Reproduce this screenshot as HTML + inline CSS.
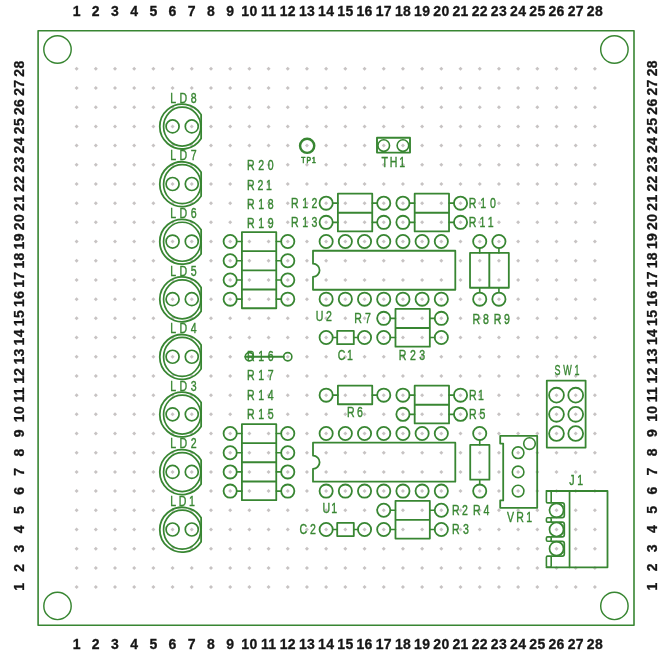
<!DOCTYPE html>
<html lang="en">
<head>
<meta charset="utf-8">
<title>PCB silkscreen layout</title>
<style>
html,body{margin:0;padding:0;background:#fff;}
body{width:664px;height:661px;overflow:hidden;}
svg{display:block;}
</style>
</head>
<body>
<svg width="664" height="661" viewBox="0 0 664 661">
<rect x="0" y="0" width="664" height="661" fill="#ffffff"/>
<g fill="#c7c3c3" stroke="none">
<path d="M74.6 587.09L76.6 585.09L78.6 587.09L76.6 589.09Z"/>
<path d="M74.6 567.9L76.6 565.9L78.6 567.9L76.6 569.9Z"/>
<path d="M74.6 548.7L76.6 546.7L78.6 548.7L76.6 550.7Z"/>
<path d="M74.6 529.5L76.6 527.5L78.6 529.5L76.6 531.5Z"/>
<path d="M74.6 510.31L76.6 508.31L78.6 510.31L76.6 512.31Z"/>
<path d="M74.6 491.11L76.6 489.11L78.6 491.11L76.6 493.11Z"/>
<path d="M74.6 471.92L76.6 469.92L78.6 471.92L76.6 473.92Z"/>
<path d="M74.6 452.72L76.6 450.72L78.6 452.72L76.6 454.72Z"/>
<path d="M74.6 433.52L76.6 431.52L78.6 433.52L76.6 435.52Z"/>
<path d="M74.6 414.33L76.6 412.33L78.6 414.33L76.6 416.33Z"/>
<path d="M74.6 395.13L76.6 393.13L78.6 395.13L76.6 397.13Z"/>
<path d="M74.6 375.94L76.6 373.94L78.6 375.94L76.6 377.94Z"/>
<path d="M74.6 356.74L76.6 354.74L78.6 356.74L76.6 358.74Z"/>
<path d="M74.6 337.54L76.6 335.54L78.6 337.54L76.6 339.54Z"/>
<path d="M74.6 318.35L76.6 316.35L78.6 318.35L76.6 320.35Z"/>
<path d="M74.6 299.15L76.6 297.15L78.6 299.15L76.6 301.15Z"/>
<path d="M74.6 279.96L76.6 277.96L78.6 279.96L76.6 281.96Z"/>
<path d="M74.6 260.76L76.6 258.76L78.6 260.76L76.6 262.76Z"/>
<path d="M74.6 241.56L76.6 239.56L78.6 241.56L76.6 243.56Z"/>
<path d="M74.6 222.37L76.6 220.37L78.6 222.37L76.6 224.37Z"/>
<path d="M74.6 203.17L76.6 201.17L78.6 203.17L76.6 205.17Z"/>
<path d="M74.6 183.98L76.6 181.98L78.6 183.98L76.6 185.98Z"/>
<path d="M74.6 164.78L76.6 162.78L78.6 164.78L76.6 166.78Z"/>
<path d="M74.6 145.58L76.6 143.58L78.6 145.58L76.6 147.58Z"/>
<path d="M74.6 126.39L76.6 124.39L78.6 126.39L76.6 128.39Z"/>
<path d="M74.6 107.19L76.6 105.19L78.6 107.19L76.6 109.19Z"/>
<path d="M74.6 88L76.6 86L78.6 88L76.6 90Z"/>
<path d="M74.6 68.8L76.6 66.8L78.6 68.8L76.6 70.8Z"/>
<path d="M93.8 587.09L95.8 585.09L97.8 587.09L95.8 589.09Z"/>
<path d="M93.8 567.9L95.8 565.9L97.8 567.9L95.8 569.9Z"/>
<path d="M93.8 548.7L95.8 546.7L97.8 548.7L95.8 550.7Z"/>
<path d="M93.8 529.5L95.8 527.5L97.8 529.5L95.8 531.5Z"/>
<path d="M93.8 510.31L95.8 508.31L97.8 510.31L95.8 512.31Z"/>
<path d="M93.8 491.11L95.8 489.11L97.8 491.11L95.8 493.11Z"/>
<path d="M93.8 471.92L95.8 469.92L97.8 471.92L95.8 473.92Z"/>
<path d="M93.8 452.72L95.8 450.72L97.8 452.72L95.8 454.72Z"/>
<path d="M93.8 433.52L95.8 431.52L97.8 433.52L95.8 435.52Z"/>
<path d="M93.8 414.33L95.8 412.33L97.8 414.33L95.8 416.33Z"/>
<path d="M93.8 395.13L95.8 393.13L97.8 395.13L95.8 397.13Z"/>
<path d="M93.8 375.94L95.8 373.94L97.8 375.94L95.8 377.94Z"/>
<path d="M93.8 356.74L95.8 354.74L97.8 356.74L95.8 358.74Z"/>
<path d="M93.8 337.54L95.8 335.54L97.8 337.54L95.8 339.54Z"/>
<path d="M93.8 318.35L95.8 316.35L97.8 318.35L95.8 320.35Z"/>
<path d="M93.8 299.15L95.8 297.15L97.8 299.15L95.8 301.15Z"/>
<path d="M93.8 279.96L95.8 277.96L97.8 279.96L95.8 281.96Z"/>
<path d="M93.8 260.76L95.8 258.76L97.8 260.76L95.8 262.76Z"/>
<path d="M93.8 241.56L95.8 239.56L97.8 241.56L95.8 243.56Z"/>
<path d="M93.8 222.37L95.8 220.37L97.8 222.37L95.8 224.37Z"/>
<path d="M93.8 203.17L95.8 201.17L97.8 203.17L95.8 205.17Z"/>
<path d="M93.8 183.98L95.8 181.98L97.8 183.98L95.8 185.98Z"/>
<path d="M93.8 164.78L95.8 162.78L97.8 164.78L95.8 166.78Z"/>
<path d="M93.8 145.58L95.8 143.58L97.8 145.58L95.8 147.58Z"/>
<path d="M93.8 126.39L95.8 124.39L97.8 126.39L95.8 128.39Z"/>
<path d="M93.8 107.19L95.8 105.19L97.8 107.19L95.8 109.19Z"/>
<path d="M93.8 88L95.8 86L97.8 88L95.8 90Z"/>
<path d="M93.8 68.8L95.8 66.8L97.8 68.8L95.8 70.8Z"/>
<path d="M112.99 587.09L114.99 585.09L116.99 587.09L114.99 589.09Z"/>
<path d="M112.99 567.9L114.99 565.9L116.99 567.9L114.99 569.9Z"/>
<path d="M112.99 548.7L114.99 546.7L116.99 548.7L114.99 550.7Z"/>
<path d="M112.99 529.5L114.99 527.5L116.99 529.5L114.99 531.5Z"/>
<path d="M112.99 510.31L114.99 508.31L116.99 510.31L114.99 512.31Z"/>
<path d="M112.99 491.11L114.99 489.11L116.99 491.11L114.99 493.11Z"/>
<path d="M112.99 471.92L114.99 469.92L116.99 471.92L114.99 473.92Z"/>
<path d="M112.99 452.72L114.99 450.72L116.99 452.72L114.99 454.72Z"/>
<path d="M112.99 433.52L114.99 431.52L116.99 433.52L114.99 435.52Z"/>
<path d="M112.99 414.33L114.99 412.33L116.99 414.33L114.99 416.33Z"/>
<path d="M112.99 395.13L114.99 393.13L116.99 395.13L114.99 397.13Z"/>
<path d="M112.99 375.94L114.99 373.94L116.99 375.94L114.99 377.94Z"/>
<path d="M112.99 356.74L114.99 354.74L116.99 356.74L114.99 358.74Z"/>
<path d="M112.99 337.54L114.99 335.54L116.99 337.54L114.99 339.54Z"/>
<path d="M112.99 318.35L114.99 316.35L116.99 318.35L114.99 320.35Z"/>
<path d="M112.99 299.15L114.99 297.15L116.99 299.15L114.99 301.15Z"/>
<path d="M112.99 279.96L114.99 277.96L116.99 279.96L114.99 281.96Z"/>
<path d="M112.99 260.76L114.99 258.76L116.99 260.76L114.99 262.76Z"/>
<path d="M112.99 241.56L114.99 239.56L116.99 241.56L114.99 243.56Z"/>
<path d="M112.99 222.37L114.99 220.37L116.99 222.37L114.99 224.37Z"/>
<path d="M112.99 203.17L114.99 201.17L116.99 203.17L114.99 205.17Z"/>
<path d="M112.99 183.98L114.99 181.98L116.99 183.98L114.99 185.98Z"/>
<path d="M112.99 164.78L114.99 162.78L116.99 164.78L114.99 166.78Z"/>
<path d="M112.99 145.58L114.99 143.58L116.99 145.58L114.99 147.58Z"/>
<path d="M112.99 126.39L114.99 124.39L116.99 126.39L114.99 128.39Z"/>
<path d="M112.99 107.19L114.99 105.19L116.99 107.19L114.99 109.19Z"/>
<path d="M112.99 88L114.99 86L116.99 88L114.99 90Z"/>
<path d="M112.99 68.8L114.99 66.8L116.99 68.8L114.99 70.8Z"/>
<path d="M132.19 587.09L134.19 585.09L136.19 587.09L134.19 589.09Z"/>
<path d="M132.19 567.9L134.19 565.9L136.19 567.9L134.19 569.9Z"/>
<path d="M132.19 548.7L134.19 546.7L136.19 548.7L134.19 550.7Z"/>
<path d="M132.19 529.5L134.19 527.5L136.19 529.5L134.19 531.5Z"/>
<path d="M132.19 510.31L134.19 508.31L136.19 510.31L134.19 512.31Z"/>
<path d="M132.19 491.11L134.19 489.11L136.19 491.11L134.19 493.11Z"/>
<path d="M132.19 471.92L134.19 469.92L136.19 471.92L134.19 473.92Z"/>
<path d="M132.19 452.72L134.19 450.72L136.19 452.72L134.19 454.72Z"/>
<path d="M132.19 433.52L134.19 431.52L136.19 433.52L134.19 435.52Z"/>
<path d="M132.19 414.33L134.19 412.33L136.19 414.33L134.19 416.33Z"/>
<path d="M132.19 395.13L134.19 393.13L136.19 395.13L134.19 397.13Z"/>
<path d="M132.19 375.94L134.19 373.94L136.19 375.94L134.19 377.94Z"/>
<path d="M132.19 356.74L134.19 354.74L136.19 356.74L134.19 358.74Z"/>
<path d="M132.19 337.54L134.19 335.54L136.19 337.54L134.19 339.54Z"/>
<path d="M132.19 318.35L134.19 316.35L136.19 318.35L134.19 320.35Z"/>
<path d="M132.19 299.15L134.19 297.15L136.19 299.15L134.19 301.15Z"/>
<path d="M132.19 279.96L134.19 277.96L136.19 279.96L134.19 281.96Z"/>
<path d="M132.19 260.76L134.19 258.76L136.19 260.76L134.19 262.76Z"/>
<path d="M132.19 241.56L134.19 239.56L136.19 241.56L134.19 243.56Z"/>
<path d="M132.19 222.37L134.19 220.37L136.19 222.37L134.19 224.37Z"/>
<path d="M132.19 203.17L134.19 201.17L136.19 203.17L134.19 205.17Z"/>
<path d="M132.19 183.98L134.19 181.98L136.19 183.98L134.19 185.98Z"/>
<path d="M132.19 164.78L134.19 162.78L136.19 164.78L134.19 166.78Z"/>
<path d="M132.19 145.58L134.19 143.58L136.19 145.58L134.19 147.58Z"/>
<path d="M132.19 126.39L134.19 124.39L136.19 126.39L134.19 128.39Z"/>
<path d="M132.19 107.19L134.19 105.19L136.19 107.19L134.19 109.19Z"/>
<path d="M132.19 88L134.19 86L136.19 88L134.19 90Z"/>
<path d="M132.19 68.8L134.19 66.8L136.19 68.8L134.19 70.8Z"/>
<path d="M151.38 587.09L153.38 585.09L155.38 587.09L153.38 589.09Z"/>
<path d="M151.38 567.9L153.38 565.9L155.38 567.9L153.38 569.9Z"/>
<path d="M151.38 548.7L153.38 546.7L155.38 548.7L153.38 550.7Z"/>
<path d="M151.38 529.5L153.38 527.5L155.38 529.5L153.38 531.5Z"/>
<path d="M151.38 510.31L153.38 508.31L155.38 510.31L153.38 512.31Z"/>
<path d="M151.38 491.11L153.38 489.11L155.38 491.11L153.38 493.11Z"/>
<path d="M151.38 471.92L153.38 469.92L155.38 471.92L153.38 473.92Z"/>
<path d="M151.38 452.72L153.38 450.72L155.38 452.72L153.38 454.72Z"/>
<path d="M151.38 433.52L153.38 431.52L155.38 433.52L153.38 435.52Z"/>
<path d="M151.38 414.33L153.38 412.33L155.38 414.33L153.38 416.33Z"/>
<path d="M151.38 395.13L153.38 393.13L155.38 395.13L153.38 397.13Z"/>
<path d="M151.38 375.94L153.38 373.94L155.38 375.94L153.38 377.94Z"/>
<path d="M151.38 356.74L153.38 354.74L155.38 356.74L153.38 358.74Z"/>
<path d="M151.38 337.54L153.38 335.54L155.38 337.54L153.38 339.54Z"/>
<path d="M151.38 318.35L153.38 316.35L155.38 318.35L153.38 320.35Z"/>
<path d="M151.38 299.15L153.38 297.15L155.38 299.15L153.38 301.15Z"/>
<path d="M151.38 279.96L153.38 277.96L155.38 279.96L153.38 281.96Z"/>
<path d="M151.38 260.76L153.38 258.76L155.38 260.76L153.38 262.76Z"/>
<path d="M151.38 241.56L153.38 239.56L155.38 241.56L153.38 243.56Z"/>
<path d="M151.38 222.37L153.38 220.37L155.38 222.37L153.38 224.37Z"/>
<path d="M151.38 203.17L153.38 201.17L155.38 203.17L153.38 205.17Z"/>
<path d="M151.38 183.98L153.38 181.98L155.38 183.98L153.38 185.98Z"/>
<path d="M151.38 164.78L153.38 162.78L155.38 164.78L153.38 166.78Z"/>
<path d="M151.38 145.58L153.38 143.58L155.38 145.58L153.38 147.58Z"/>
<path d="M151.38 126.39L153.38 124.39L155.38 126.39L153.38 128.39Z"/>
<path d="M151.38 107.19L153.38 105.19L155.38 107.19L153.38 109.19Z"/>
<path d="M151.38 88L153.38 86L155.38 88L153.38 90Z"/>
<path d="M151.38 68.8L153.38 66.8L155.38 68.8L153.38 70.8Z"/>
<path d="M170.58 587.09L172.58 585.09L174.58 587.09L172.58 589.09Z"/>
<path d="M170.58 567.9L172.58 565.9L174.58 567.9L172.58 569.9Z"/>
<path d="M170.58 548.7L172.58 546.7L174.58 548.7L172.58 550.7Z"/>
<path d="M170.58 529.5L172.58 527.5L174.58 529.5L172.58 531.5Z"/>
<path d="M170.58 510.31L172.58 508.31L174.58 510.31L172.58 512.31Z"/>
<path d="M170.58 491.11L172.58 489.11L174.58 491.11L172.58 493.11Z"/>
<path d="M170.58 471.92L172.58 469.92L174.58 471.92L172.58 473.92Z"/>
<path d="M170.58 452.72L172.58 450.72L174.58 452.72L172.58 454.72Z"/>
<path d="M170.58 433.52L172.58 431.52L174.58 433.52L172.58 435.52Z"/>
<path d="M170.58 414.33L172.58 412.33L174.58 414.33L172.58 416.33Z"/>
<path d="M170.58 395.13L172.58 393.13L174.58 395.13L172.58 397.13Z"/>
<path d="M170.58 375.94L172.58 373.94L174.58 375.94L172.58 377.94Z"/>
<path d="M170.58 356.74L172.58 354.74L174.58 356.74L172.58 358.74Z"/>
<path d="M170.58 337.54L172.58 335.54L174.58 337.54L172.58 339.54Z"/>
<path d="M170.58 318.35L172.58 316.35L174.58 318.35L172.58 320.35Z"/>
<path d="M170.58 299.15L172.58 297.15L174.58 299.15L172.58 301.15Z"/>
<path d="M170.58 279.96L172.58 277.96L174.58 279.96L172.58 281.96Z"/>
<path d="M170.58 260.76L172.58 258.76L174.58 260.76L172.58 262.76Z"/>
<path d="M170.58 241.56L172.58 239.56L174.58 241.56L172.58 243.56Z"/>
<path d="M170.58 222.37L172.58 220.37L174.58 222.37L172.58 224.37Z"/>
<path d="M170.58 203.17L172.58 201.17L174.58 203.17L172.58 205.17Z"/>
<path d="M170.58 183.98L172.58 181.98L174.58 183.98L172.58 185.98Z"/>
<path d="M170.58 164.78L172.58 162.78L174.58 164.78L172.58 166.78Z"/>
<path d="M170.58 145.58L172.58 143.58L174.58 145.58L172.58 147.58Z"/>
<path d="M170.58 126.39L172.58 124.39L174.58 126.39L172.58 128.39Z"/>
<path d="M170.58 107.19L172.58 105.19L174.58 107.19L172.58 109.19Z"/>
<path d="M170.58 88L172.58 86L174.58 88L172.58 90Z"/>
<path d="M170.58 68.8L172.58 66.8L174.58 68.8L172.58 70.8Z"/>
<path d="M189.78 587.09L191.78 585.09L193.78 587.09L191.78 589.09Z"/>
<path d="M189.78 567.9L191.78 565.9L193.78 567.9L191.78 569.9Z"/>
<path d="M189.78 548.7L191.78 546.7L193.78 548.7L191.78 550.7Z"/>
<path d="M189.78 529.5L191.78 527.5L193.78 529.5L191.78 531.5Z"/>
<path d="M189.78 510.31L191.78 508.31L193.78 510.31L191.78 512.31Z"/>
<path d="M189.78 491.11L191.78 489.11L193.78 491.11L191.78 493.11Z"/>
<path d="M189.78 471.92L191.78 469.92L193.78 471.92L191.78 473.92Z"/>
<path d="M189.78 452.72L191.78 450.72L193.78 452.72L191.78 454.72Z"/>
<path d="M189.78 433.52L191.78 431.52L193.78 433.52L191.78 435.52Z"/>
<path d="M189.78 414.33L191.78 412.33L193.78 414.33L191.78 416.33Z"/>
<path d="M189.78 395.13L191.78 393.13L193.78 395.13L191.78 397.13Z"/>
<path d="M189.78 375.94L191.78 373.94L193.78 375.94L191.78 377.94Z"/>
<path d="M189.78 356.74L191.78 354.74L193.78 356.74L191.78 358.74Z"/>
<path d="M189.78 337.54L191.78 335.54L193.78 337.54L191.78 339.54Z"/>
<path d="M189.78 318.35L191.78 316.35L193.78 318.35L191.78 320.35Z"/>
<path d="M189.78 299.15L191.78 297.15L193.78 299.15L191.78 301.15Z"/>
<path d="M189.78 279.96L191.78 277.96L193.78 279.96L191.78 281.96Z"/>
<path d="M189.78 260.76L191.78 258.76L193.78 260.76L191.78 262.76Z"/>
<path d="M189.78 241.56L191.78 239.56L193.78 241.56L191.78 243.56Z"/>
<path d="M189.78 222.37L191.78 220.37L193.78 222.37L191.78 224.37Z"/>
<path d="M189.78 203.17L191.78 201.17L193.78 203.17L191.78 205.17Z"/>
<path d="M189.78 183.98L191.78 181.98L193.78 183.98L191.78 185.98Z"/>
<path d="M189.78 164.78L191.78 162.78L193.78 164.78L191.78 166.78Z"/>
<path d="M189.78 145.58L191.78 143.58L193.78 145.58L191.78 147.58Z"/>
<path d="M189.78 126.39L191.78 124.39L193.78 126.39L191.78 128.39Z"/>
<path d="M189.78 107.19L191.78 105.19L193.78 107.19L191.78 109.19Z"/>
<path d="M189.78 88L191.78 86L193.78 88L191.78 90Z"/>
<path d="M189.78 68.8L191.78 66.8L193.78 68.8L191.78 70.8Z"/>
<path d="M208.97 587.09L210.97 585.09L212.97 587.09L210.97 589.09Z"/>
<path d="M208.97 567.9L210.97 565.9L212.97 567.9L210.97 569.9Z"/>
<path d="M208.97 548.7L210.97 546.7L212.97 548.7L210.97 550.7Z"/>
<path d="M208.97 529.5L210.97 527.5L212.97 529.5L210.97 531.5Z"/>
<path d="M208.97 510.31L210.97 508.31L212.97 510.31L210.97 512.31Z"/>
<path d="M208.97 491.11L210.97 489.11L212.97 491.11L210.97 493.11Z"/>
<path d="M208.97 471.92L210.97 469.92L212.97 471.92L210.97 473.92Z"/>
<path d="M208.97 452.72L210.97 450.72L212.97 452.72L210.97 454.72Z"/>
<path d="M208.97 433.52L210.97 431.52L212.97 433.52L210.97 435.52Z"/>
<path d="M208.97 414.33L210.97 412.33L212.97 414.33L210.97 416.33Z"/>
<path d="M208.97 395.13L210.97 393.13L212.97 395.13L210.97 397.13Z"/>
<path d="M208.97 375.94L210.97 373.94L212.97 375.94L210.97 377.94Z"/>
<path d="M208.97 356.74L210.97 354.74L212.97 356.74L210.97 358.74Z"/>
<path d="M208.97 337.54L210.97 335.54L212.97 337.54L210.97 339.54Z"/>
<path d="M208.97 318.35L210.97 316.35L212.97 318.35L210.97 320.35Z"/>
<path d="M208.97 299.15L210.97 297.15L212.97 299.15L210.97 301.15Z"/>
<path d="M208.97 279.96L210.97 277.96L212.97 279.96L210.97 281.96Z"/>
<path d="M208.97 260.76L210.97 258.76L212.97 260.76L210.97 262.76Z"/>
<path d="M208.97 241.56L210.97 239.56L212.97 241.56L210.97 243.56Z"/>
<path d="M208.97 222.37L210.97 220.37L212.97 222.37L210.97 224.37Z"/>
<path d="M208.97 203.17L210.97 201.17L212.97 203.17L210.97 205.17Z"/>
<path d="M208.97 183.98L210.97 181.98L212.97 183.98L210.97 185.98Z"/>
<path d="M208.97 164.78L210.97 162.78L212.97 164.78L210.97 166.78Z"/>
<path d="M208.97 145.58L210.97 143.58L212.97 145.58L210.97 147.58Z"/>
<path d="M208.97 126.39L210.97 124.39L212.97 126.39L210.97 128.39Z"/>
<path d="M208.97 107.19L210.97 105.19L212.97 107.19L210.97 109.19Z"/>
<path d="M208.97 88L210.97 86L212.97 88L210.97 90Z"/>
<path d="M208.97 68.8L210.97 66.8L212.97 68.8L210.97 70.8Z"/>
<path d="M228.17 587.09L230.17 585.09L232.17 587.09L230.17 589.09Z"/>
<path d="M228.17 567.9L230.17 565.9L232.17 567.9L230.17 569.9Z"/>
<path d="M228.17 548.7L230.17 546.7L232.17 548.7L230.17 550.7Z"/>
<path d="M228.17 529.5L230.17 527.5L232.17 529.5L230.17 531.5Z"/>
<path d="M228.17 510.31L230.17 508.31L232.17 510.31L230.17 512.31Z"/>
<path d="M228.17 491.11L230.17 489.11L232.17 491.11L230.17 493.11Z"/>
<path d="M228.17 471.92L230.17 469.92L232.17 471.92L230.17 473.92Z"/>
<path d="M228.17 452.72L230.17 450.72L232.17 452.72L230.17 454.72Z"/>
<path d="M228.17 433.52L230.17 431.52L232.17 433.52L230.17 435.52Z"/>
<path d="M228.17 414.33L230.17 412.33L232.17 414.33L230.17 416.33Z"/>
<path d="M228.17 395.13L230.17 393.13L232.17 395.13L230.17 397.13Z"/>
<path d="M228.17 375.94L230.17 373.94L232.17 375.94L230.17 377.94Z"/>
<path d="M228.17 356.74L230.17 354.74L232.17 356.74L230.17 358.74Z"/>
<path d="M228.17 337.54L230.17 335.54L232.17 337.54L230.17 339.54Z"/>
<path d="M228.17 318.35L230.17 316.35L232.17 318.35L230.17 320.35Z"/>
<path d="M228.17 299.15L230.17 297.15L232.17 299.15L230.17 301.15Z"/>
<path d="M228.17 279.96L230.17 277.96L232.17 279.96L230.17 281.96Z"/>
<path d="M228.17 260.76L230.17 258.76L232.17 260.76L230.17 262.76Z"/>
<path d="M228.17 241.56L230.17 239.56L232.17 241.56L230.17 243.56Z"/>
<path d="M228.17 222.37L230.17 220.37L232.17 222.37L230.17 224.37Z"/>
<path d="M228.17 203.17L230.17 201.17L232.17 203.17L230.17 205.17Z"/>
<path d="M228.17 183.98L230.17 181.98L232.17 183.98L230.17 185.98Z"/>
<path d="M228.17 164.78L230.17 162.78L232.17 164.78L230.17 166.78Z"/>
<path d="M228.17 145.58L230.17 143.58L232.17 145.58L230.17 147.58Z"/>
<path d="M228.17 126.39L230.17 124.39L232.17 126.39L230.17 128.39Z"/>
<path d="M228.17 107.19L230.17 105.19L232.17 107.19L230.17 109.19Z"/>
<path d="M228.17 88L230.17 86L232.17 88L230.17 90Z"/>
<path d="M228.17 68.8L230.17 66.8L232.17 68.8L230.17 70.8Z"/>
<path d="M247.36 587.09L249.36 585.09L251.36 587.09L249.36 589.09Z"/>
<path d="M247.36 567.9L249.36 565.9L251.36 567.9L249.36 569.9Z"/>
<path d="M247.36 548.7L249.36 546.7L251.36 548.7L249.36 550.7Z"/>
<path d="M247.36 529.5L249.36 527.5L251.36 529.5L249.36 531.5Z"/>
<path d="M247.36 510.31L249.36 508.31L251.36 510.31L249.36 512.31Z"/>
<path d="M247.36 491.11L249.36 489.11L251.36 491.11L249.36 493.11Z"/>
<path d="M247.36 471.92L249.36 469.92L251.36 471.92L249.36 473.92Z"/>
<path d="M247.36 452.72L249.36 450.72L251.36 452.72L249.36 454.72Z"/>
<path d="M247.36 433.52L249.36 431.52L251.36 433.52L249.36 435.52Z"/>
<path d="M247.36 414.33L249.36 412.33L251.36 414.33L249.36 416.33Z"/>
<path d="M247.36 395.13L249.36 393.13L251.36 395.13L249.36 397.13Z"/>
<path d="M247.36 375.94L249.36 373.94L251.36 375.94L249.36 377.94Z"/>
<path d="M247.36 356.74L249.36 354.74L251.36 356.74L249.36 358.74Z"/>
<path d="M247.36 337.54L249.36 335.54L251.36 337.54L249.36 339.54Z"/>
<path d="M247.36 318.35L249.36 316.35L251.36 318.35L249.36 320.35Z"/>
<path d="M247.36 299.15L249.36 297.15L251.36 299.15L249.36 301.15Z"/>
<path d="M247.36 279.96L249.36 277.96L251.36 279.96L249.36 281.96Z"/>
<path d="M247.36 260.76L249.36 258.76L251.36 260.76L249.36 262.76Z"/>
<path d="M247.36 241.56L249.36 239.56L251.36 241.56L249.36 243.56Z"/>
<path d="M247.36 222.37L249.36 220.37L251.36 222.37L249.36 224.37Z"/>
<path d="M247.36 203.17L249.36 201.17L251.36 203.17L249.36 205.17Z"/>
<path d="M247.36 183.98L249.36 181.98L251.36 183.98L249.36 185.98Z"/>
<path d="M247.36 164.78L249.36 162.78L251.36 164.78L249.36 166.78Z"/>
<path d="M247.36 145.58L249.36 143.58L251.36 145.58L249.36 147.58Z"/>
<path d="M247.36 126.39L249.36 124.39L251.36 126.39L249.36 128.39Z"/>
<path d="M247.36 107.19L249.36 105.19L251.36 107.19L249.36 109.19Z"/>
<path d="M247.36 88L249.36 86L251.36 88L249.36 90Z"/>
<path d="M247.36 68.8L249.36 66.8L251.36 68.8L249.36 70.8Z"/>
<path d="M266.56 587.09L268.56 585.09L270.56 587.09L268.56 589.09Z"/>
<path d="M266.56 567.9L268.56 565.9L270.56 567.9L268.56 569.9Z"/>
<path d="M266.56 548.7L268.56 546.7L270.56 548.7L268.56 550.7Z"/>
<path d="M266.56 529.5L268.56 527.5L270.56 529.5L268.56 531.5Z"/>
<path d="M266.56 510.31L268.56 508.31L270.56 510.31L268.56 512.31Z"/>
<path d="M266.56 491.11L268.56 489.11L270.56 491.11L268.56 493.11Z"/>
<path d="M266.56 471.92L268.56 469.92L270.56 471.92L268.56 473.92Z"/>
<path d="M266.56 452.72L268.56 450.72L270.56 452.72L268.56 454.72Z"/>
<path d="M266.56 433.52L268.56 431.52L270.56 433.52L268.56 435.52Z"/>
<path d="M266.56 414.33L268.56 412.33L270.56 414.33L268.56 416.33Z"/>
<path d="M266.56 395.13L268.56 393.13L270.56 395.13L268.56 397.13Z"/>
<path d="M266.56 375.94L268.56 373.94L270.56 375.94L268.56 377.94Z"/>
<path d="M266.56 356.74L268.56 354.74L270.56 356.74L268.56 358.74Z"/>
<path d="M266.56 337.54L268.56 335.54L270.56 337.54L268.56 339.54Z"/>
<path d="M266.56 318.35L268.56 316.35L270.56 318.35L268.56 320.35Z"/>
<path d="M266.56 299.15L268.56 297.15L270.56 299.15L268.56 301.15Z"/>
<path d="M266.56 279.96L268.56 277.96L270.56 279.96L268.56 281.96Z"/>
<path d="M266.56 260.76L268.56 258.76L270.56 260.76L268.56 262.76Z"/>
<path d="M266.56 241.56L268.56 239.56L270.56 241.56L268.56 243.56Z"/>
<path d="M266.56 222.37L268.56 220.37L270.56 222.37L268.56 224.37Z"/>
<path d="M266.56 203.17L268.56 201.17L270.56 203.17L268.56 205.17Z"/>
<path d="M266.56 183.98L268.56 181.98L270.56 183.98L268.56 185.98Z"/>
<path d="M266.56 164.78L268.56 162.78L270.56 164.78L268.56 166.78Z"/>
<path d="M266.56 145.58L268.56 143.58L270.56 145.58L268.56 147.58Z"/>
<path d="M266.56 126.39L268.56 124.39L270.56 126.39L268.56 128.39Z"/>
<path d="M266.56 107.19L268.56 105.19L270.56 107.19L268.56 109.19Z"/>
<path d="M266.56 88L268.56 86L270.56 88L268.56 90Z"/>
<path d="M266.56 68.8L268.56 66.8L270.56 68.8L268.56 70.8Z"/>
<path d="M285.76 587.09L287.76 585.09L289.76 587.09L287.76 589.09Z"/>
<path d="M285.76 567.9L287.76 565.9L289.76 567.9L287.76 569.9Z"/>
<path d="M285.76 548.7L287.76 546.7L289.76 548.7L287.76 550.7Z"/>
<path d="M285.76 529.5L287.76 527.5L289.76 529.5L287.76 531.5Z"/>
<path d="M285.76 510.31L287.76 508.31L289.76 510.31L287.76 512.31Z"/>
<path d="M285.76 491.11L287.76 489.11L289.76 491.11L287.76 493.11Z"/>
<path d="M285.76 471.92L287.76 469.92L289.76 471.92L287.76 473.92Z"/>
<path d="M285.76 452.72L287.76 450.72L289.76 452.72L287.76 454.72Z"/>
<path d="M285.76 433.52L287.76 431.52L289.76 433.52L287.76 435.52Z"/>
<path d="M285.76 414.33L287.76 412.33L289.76 414.33L287.76 416.33Z"/>
<path d="M285.76 395.13L287.76 393.13L289.76 395.13L287.76 397.13Z"/>
<path d="M285.76 375.94L287.76 373.94L289.76 375.94L287.76 377.94Z"/>
<path d="M285.76 356.74L287.76 354.74L289.76 356.74L287.76 358.74Z"/>
<path d="M285.76 337.54L287.76 335.54L289.76 337.54L287.76 339.54Z"/>
<path d="M285.76 318.35L287.76 316.35L289.76 318.35L287.76 320.35Z"/>
<path d="M285.76 299.15L287.76 297.15L289.76 299.15L287.76 301.15Z"/>
<path d="M285.76 279.96L287.76 277.96L289.76 279.96L287.76 281.96Z"/>
<path d="M285.76 260.76L287.76 258.76L289.76 260.76L287.76 262.76Z"/>
<path d="M285.76 241.56L287.76 239.56L289.76 241.56L287.76 243.56Z"/>
<path d="M285.76 222.37L287.76 220.37L289.76 222.37L287.76 224.37Z"/>
<path d="M285.76 203.17L287.76 201.17L289.76 203.17L287.76 205.17Z"/>
<path d="M285.76 183.98L287.76 181.98L289.76 183.98L287.76 185.98Z"/>
<path d="M285.76 164.78L287.76 162.78L289.76 164.78L287.76 166.78Z"/>
<path d="M285.76 145.58L287.76 143.58L289.76 145.58L287.76 147.58Z"/>
<path d="M285.76 126.39L287.76 124.39L289.76 126.39L287.76 128.39Z"/>
<path d="M285.76 107.19L287.76 105.19L289.76 107.19L287.76 109.19Z"/>
<path d="M285.76 88L287.76 86L289.76 88L287.76 90Z"/>
<path d="M285.76 68.8L287.76 66.8L289.76 68.8L287.76 70.8Z"/>
<path d="M304.95 587.09L306.95 585.09L308.95 587.09L306.95 589.09Z"/>
<path d="M304.95 567.9L306.95 565.9L308.95 567.9L306.95 569.9Z"/>
<path d="M304.95 548.7L306.95 546.7L308.95 548.7L306.95 550.7Z"/>
<path d="M304.95 529.5L306.95 527.5L308.95 529.5L306.95 531.5Z"/>
<path d="M304.95 510.31L306.95 508.31L308.95 510.31L306.95 512.31Z"/>
<path d="M304.95 491.11L306.95 489.11L308.95 491.11L306.95 493.11Z"/>
<path d="M304.95 471.92L306.95 469.92L308.95 471.92L306.95 473.92Z"/>
<path d="M304.95 452.72L306.95 450.72L308.95 452.72L306.95 454.72Z"/>
<path d="M304.95 433.52L306.95 431.52L308.95 433.52L306.95 435.52Z"/>
<path d="M304.95 414.33L306.95 412.33L308.95 414.33L306.95 416.33Z"/>
<path d="M304.95 395.13L306.95 393.13L308.95 395.13L306.95 397.13Z"/>
<path d="M304.95 375.94L306.95 373.94L308.95 375.94L306.95 377.94Z"/>
<path d="M304.95 356.74L306.95 354.74L308.95 356.74L306.95 358.74Z"/>
<path d="M304.95 337.54L306.95 335.54L308.95 337.54L306.95 339.54Z"/>
<path d="M304.95 318.35L306.95 316.35L308.95 318.35L306.95 320.35Z"/>
<path d="M304.95 299.15L306.95 297.15L308.95 299.15L306.95 301.15Z"/>
<path d="M304.95 279.96L306.95 277.96L308.95 279.96L306.95 281.96Z"/>
<path d="M304.95 260.76L306.95 258.76L308.95 260.76L306.95 262.76Z"/>
<path d="M304.95 241.56L306.95 239.56L308.95 241.56L306.95 243.56Z"/>
<path d="M304.95 222.37L306.95 220.37L308.95 222.37L306.95 224.37Z"/>
<path d="M304.95 203.17L306.95 201.17L308.95 203.17L306.95 205.17Z"/>
<path d="M304.95 183.98L306.95 181.98L308.95 183.98L306.95 185.98Z"/>
<path d="M304.95 164.78L306.95 162.78L308.95 164.78L306.95 166.78Z"/>
<path d="M304.95 145.58L306.95 143.58L308.95 145.58L306.95 147.58Z"/>
<path d="M304.95 126.39L306.95 124.39L308.95 126.39L306.95 128.39Z"/>
<path d="M304.95 107.19L306.95 105.19L308.95 107.19L306.95 109.19Z"/>
<path d="M304.95 88L306.95 86L308.95 88L306.95 90Z"/>
<path d="M304.95 68.8L306.95 66.8L308.95 68.8L306.95 70.8Z"/>
<path d="M324.15 587.09L326.15 585.09L328.15 587.09L326.15 589.09Z"/>
<path d="M324.15 567.9L326.15 565.9L328.15 567.9L326.15 569.9Z"/>
<path d="M324.15 548.7L326.15 546.7L328.15 548.7L326.15 550.7Z"/>
<path d="M324.15 529.5L326.15 527.5L328.15 529.5L326.15 531.5Z"/>
<path d="M324.15 510.31L326.15 508.31L328.15 510.31L326.15 512.31Z"/>
<path d="M324.15 491.11L326.15 489.11L328.15 491.11L326.15 493.11Z"/>
<path d="M324.15 471.92L326.15 469.92L328.15 471.92L326.15 473.92Z"/>
<path d="M324.15 452.72L326.15 450.72L328.15 452.72L326.15 454.72Z"/>
<path d="M324.15 433.52L326.15 431.52L328.15 433.52L326.15 435.52Z"/>
<path d="M324.15 414.33L326.15 412.33L328.15 414.33L326.15 416.33Z"/>
<path d="M324.15 395.13L326.15 393.13L328.15 395.13L326.15 397.13Z"/>
<path d="M324.15 375.94L326.15 373.94L328.15 375.94L326.15 377.94Z"/>
<path d="M324.15 356.74L326.15 354.74L328.15 356.74L326.15 358.74Z"/>
<path d="M324.15 337.54L326.15 335.54L328.15 337.54L326.15 339.54Z"/>
<path d="M324.15 318.35L326.15 316.35L328.15 318.35L326.15 320.35Z"/>
<path d="M324.15 299.15L326.15 297.15L328.15 299.15L326.15 301.15Z"/>
<path d="M324.15 279.96L326.15 277.96L328.15 279.96L326.15 281.96Z"/>
<path d="M324.15 260.76L326.15 258.76L328.15 260.76L326.15 262.76Z"/>
<path d="M324.15 241.56L326.15 239.56L328.15 241.56L326.15 243.56Z"/>
<path d="M324.15 222.37L326.15 220.37L328.15 222.37L326.15 224.37Z"/>
<path d="M324.15 203.17L326.15 201.17L328.15 203.17L326.15 205.17Z"/>
<path d="M324.15 183.98L326.15 181.98L328.15 183.98L326.15 185.98Z"/>
<path d="M324.15 164.78L326.15 162.78L328.15 164.78L326.15 166.78Z"/>
<path d="M324.15 145.58L326.15 143.58L328.15 145.58L326.15 147.58Z"/>
<path d="M324.15 126.39L326.15 124.39L328.15 126.39L326.15 128.39Z"/>
<path d="M324.15 107.19L326.15 105.19L328.15 107.19L326.15 109.19Z"/>
<path d="M324.15 88L326.15 86L328.15 88L326.15 90Z"/>
<path d="M324.15 68.8L326.15 66.8L328.15 68.8L326.15 70.8Z"/>
<path d="M343.34 587.09L345.34 585.09L347.34 587.09L345.34 589.09Z"/>
<path d="M343.34 567.9L345.34 565.9L347.34 567.9L345.34 569.9Z"/>
<path d="M343.34 548.7L345.34 546.7L347.34 548.7L345.34 550.7Z"/>
<path d="M343.34 529.5L345.34 527.5L347.34 529.5L345.34 531.5Z"/>
<path d="M343.34 510.31L345.34 508.31L347.34 510.31L345.34 512.31Z"/>
<path d="M343.34 491.11L345.34 489.11L347.34 491.11L345.34 493.11Z"/>
<path d="M343.34 471.92L345.34 469.92L347.34 471.92L345.34 473.92Z"/>
<path d="M343.34 452.72L345.34 450.72L347.34 452.72L345.34 454.72Z"/>
<path d="M343.34 433.52L345.34 431.52L347.34 433.52L345.34 435.52Z"/>
<path d="M343.34 414.33L345.34 412.33L347.34 414.33L345.34 416.33Z"/>
<path d="M343.34 395.13L345.34 393.13L347.34 395.13L345.34 397.13Z"/>
<path d="M343.34 375.94L345.34 373.94L347.34 375.94L345.34 377.94Z"/>
<path d="M343.34 356.74L345.34 354.74L347.34 356.74L345.34 358.74Z"/>
<path d="M343.34 337.54L345.34 335.54L347.34 337.54L345.34 339.54Z"/>
<path d="M343.34 318.35L345.34 316.35L347.34 318.35L345.34 320.35Z"/>
<path d="M343.34 299.15L345.34 297.15L347.34 299.15L345.34 301.15Z"/>
<path d="M343.34 279.96L345.34 277.96L347.34 279.96L345.34 281.96Z"/>
<path d="M343.34 260.76L345.34 258.76L347.34 260.76L345.34 262.76Z"/>
<path d="M343.34 241.56L345.34 239.56L347.34 241.56L345.34 243.56Z"/>
<path d="M343.34 222.37L345.34 220.37L347.34 222.37L345.34 224.37Z"/>
<path d="M343.34 203.17L345.34 201.17L347.34 203.17L345.34 205.17Z"/>
<path d="M343.34 183.98L345.34 181.98L347.34 183.98L345.34 185.98Z"/>
<path d="M343.34 164.78L345.34 162.78L347.34 164.78L345.34 166.78Z"/>
<path d="M343.34 145.58L345.34 143.58L347.34 145.58L345.34 147.58Z"/>
<path d="M343.34 126.39L345.34 124.39L347.34 126.39L345.34 128.39Z"/>
<path d="M343.34 107.19L345.34 105.19L347.34 107.19L345.34 109.19Z"/>
<path d="M343.34 88L345.34 86L347.34 88L345.34 90Z"/>
<path d="M343.34 68.8L345.34 66.8L347.34 68.8L345.34 70.8Z"/>
<path d="M362.54 587.09L364.54 585.09L366.54 587.09L364.54 589.09Z"/>
<path d="M362.54 567.9L364.54 565.9L366.54 567.9L364.54 569.9Z"/>
<path d="M362.54 548.7L364.54 546.7L366.54 548.7L364.54 550.7Z"/>
<path d="M362.54 529.5L364.54 527.5L366.54 529.5L364.54 531.5Z"/>
<path d="M362.54 510.31L364.54 508.31L366.54 510.31L364.54 512.31Z"/>
<path d="M362.54 491.11L364.54 489.11L366.54 491.11L364.54 493.11Z"/>
<path d="M362.54 471.92L364.54 469.92L366.54 471.92L364.54 473.92Z"/>
<path d="M362.54 452.72L364.54 450.72L366.54 452.72L364.54 454.72Z"/>
<path d="M362.54 433.52L364.54 431.52L366.54 433.52L364.54 435.52Z"/>
<path d="M362.54 414.33L364.54 412.33L366.54 414.33L364.54 416.33Z"/>
<path d="M362.54 395.13L364.54 393.13L366.54 395.13L364.54 397.13Z"/>
<path d="M362.54 375.94L364.54 373.94L366.54 375.94L364.54 377.94Z"/>
<path d="M362.54 356.74L364.54 354.74L366.54 356.74L364.54 358.74Z"/>
<path d="M362.54 337.54L364.54 335.54L366.54 337.54L364.54 339.54Z"/>
<path d="M362.54 318.35L364.54 316.35L366.54 318.35L364.54 320.35Z"/>
<path d="M362.54 299.15L364.54 297.15L366.54 299.15L364.54 301.15Z"/>
<path d="M362.54 279.96L364.54 277.96L366.54 279.96L364.54 281.96Z"/>
<path d="M362.54 260.76L364.54 258.76L366.54 260.76L364.54 262.76Z"/>
<path d="M362.54 241.56L364.54 239.56L366.54 241.56L364.54 243.56Z"/>
<path d="M362.54 222.37L364.54 220.37L366.54 222.37L364.54 224.37Z"/>
<path d="M362.54 203.17L364.54 201.17L366.54 203.17L364.54 205.17Z"/>
<path d="M362.54 183.98L364.54 181.98L366.54 183.98L364.54 185.98Z"/>
<path d="M362.54 164.78L364.54 162.78L366.54 164.78L364.54 166.78Z"/>
<path d="M362.54 145.58L364.54 143.58L366.54 145.58L364.54 147.58Z"/>
<path d="M362.54 126.39L364.54 124.39L366.54 126.39L364.54 128.39Z"/>
<path d="M362.54 107.19L364.54 105.19L366.54 107.19L364.54 109.19Z"/>
<path d="M362.54 88L364.54 86L366.54 88L364.54 90Z"/>
<path d="M362.54 68.8L364.54 66.8L366.54 68.8L364.54 70.8Z"/>
<path d="M381.74 587.09L383.74 585.09L385.74 587.09L383.74 589.09Z"/>
<path d="M381.74 567.9L383.74 565.9L385.74 567.9L383.74 569.9Z"/>
<path d="M381.74 548.7L383.74 546.7L385.74 548.7L383.74 550.7Z"/>
<path d="M381.74 529.5L383.74 527.5L385.74 529.5L383.74 531.5Z"/>
<path d="M381.74 510.31L383.74 508.31L385.74 510.31L383.74 512.31Z"/>
<path d="M381.74 491.11L383.74 489.11L385.74 491.11L383.74 493.11Z"/>
<path d="M381.74 471.92L383.74 469.92L385.74 471.92L383.74 473.92Z"/>
<path d="M381.74 452.72L383.74 450.72L385.74 452.72L383.74 454.72Z"/>
<path d="M381.74 433.52L383.74 431.52L385.74 433.52L383.74 435.52Z"/>
<path d="M381.74 414.33L383.74 412.33L385.74 414.33L383.74 416.33Z"/>
<path d="M381.74 395.13L383.74 393.13L385.74 395.13L383.74 397.13Z"/>
<path d="M381.74 375.94L383.74 373.94L385.74 375.94L383.74 377.94Z"/>
<path d="M381.74 356.74L383.74 354.74L385.74 356.74L383.74 358.74Z"/>
<path d="M381.74 337.54L383.74 335.54L385.74 337.54L383.74 339.54Z"/>
<path d="M381.74 318.35L383.74 316.35L385.74 318.35L383.74 320.35Z"/>
<path d="M381.74 299.15L383.74 297.15L385.74 299.15L383.74 301.15Z"/>
<path d="M381.74 279.96L383.74 277.96L385.74 279.96L383.74 281.96Z"/>
<path d="M381.74 260.76L383.74 258.76L385.74 260.76L383.74 262.76Z"/>
<path d="M381.74 241.56L383.74 239.56L385.74 241.56L383.74 243.56Z"/>
<path d="M381.74 222.37L383.74 220.37L385.74 222.37L383.74 224.37Z"/>
<path d="M381.74 203.17L383.74 201.17L385.74 203.17L383.74 205.17Z"/>
<path d="M381.74 183.98L383.74 181.98L385.74 183.98L383.74 185.98Z"/>
<path d="M381.74 164.78L383.74 162.78L385.74 164.78L383.74 166.78Z"/>
<path d="M381.74 145.58L383.74 143.58L385.74 145.58L383.74 147.58Z"/>
<path d="M381.74 126.39L383.74 124.39L385.74 126.39L383.74 128.39Z"/>
<path d="M381.74 107.19L383.74 105.19L385.74 107.19L383.74 109.19Z"/>
<path d="M381.74 88L383.74 86L385.74 88L383.74 90Z"/>
<path d="M381.74 68.8L383.74 66.8L385.74 68.8L383.74 70.8Z"/>
<path d="M400.93 587.09L402.93 585.09L404.93 587.09L402.93 589.09Z"/>
<path d="M400.93 567.9L402.93 565.9L404.93 567.9L402.93 569.9Z"/>
<path d="M400.93 548.7L402.93 546.7L404.93 548.7L402.93 550.7Z"/>
<path d="M400.93 529.5L402.93 527.5L404.93 529.5L402.93 531.5Z"/>
<path d="M400.93 510.31L402.93 508.31L404.93 510.31L402.93 512.31Z"/>
<path d="M400.93 491.11L402.93 489.11L404.93 491.11L402.93 493.11Z"/>
<path d="M400.93 471.92L402.93 469.92L404.93 471.92L402.93 473.92Z"/>
<path d="M400.93 452.72L402.93 450.72L404.93 452.72L402.93 454.72Z"/>
<path d="M400.93 433.52L402.93 431.52L404.93 433.52L402.93 435.52Z"/>
<path d="M400.93 414.33L402.93 412.33L404.93 414.33L402.93 416.33Z"/>
<path d="M400.93 395.13L402.93 393.13L404.93 395.13L402.93 397.13Z"/>
<path d="M400.93 375.94L402.93 373.94L404.93 375.94L402.93 377.94Z"/>
<path d="M400.93 356.74L402.93 354.74L404.93 356.74L402.93 358.74Z"/>
<path d="M400.93 337.54L402.93 335.54L404.93 337.54L402.93 339.54Z"/>
<path d="M400.93 318.35L402.93 316.35L404.93 318.35L402.93 320.35Z"/>
<path d="M400.93 299.15L402.93 297.15L404.93 299.15L402.93 301.15Z"/>
<path d="M400.93 279.96L402.93 277.96L404.93 279.96L402.93 281.96Z"/>
<path d="M400.93 260.76L402.93 258.76L404.93 260.76L402.93 262.76Z"/>
<path d="M400.93 241.56L402.93 239.56L404.93 241.56L402.93 243.56Z"/>
<path d="M400.93 222.37L402.93 220.37L404.93 222.37L402.93 224.37Z"/>
<path d="M400.93 203.17L402.93 201.17L404.93 203.17L402.93 205.17Z"/>
<path d="M400.93 183.98L402.93 181.98L404.93 183.98L402.93 185.98Z"/>
<path d="M400.93 164.78L402.93 162.78L404.93 164.78L402.93 166.78Z"/>
<path d="M400.93 145.58L402.93 143.58L404.93 145.58L402.93 147.58Z"/>
<path d="M400.93 126.39L402.93 124.39L404.93 126.39L402.93 128.39Z"/>
<path d="M400.93 107.19L402.93 105.19L404.93 107.19L402.93 109.19Z"/>
<path d="M400.93 88L402.93 86L404.93 88L402.93 90Z"/>
<path d="M400.93 68.8L402.93 66.8L404.93 68.8L402.93 70.8Z"/>
<path d="M420.13 587.09L422.13 585.09L424.13 587.09L422.13 589.09Z"/>
<path d="M420.13 567.9L422.13 565.9L424.13 567.9L422.13 569.9Z"/>
<path d="M420.13 548.7L422.13 546.7L424.13 548.7L422.13 550.7Z"/>
<path d="M420.13 529.5L422.13 527.5L424.13 529.5L422.13 531.5Z"/>
<path d="M420.13 510.31L422.13 508.31L424.13 510.31L422.13 512.31Z"/>
<path d="M420.13 491.11L422.13 489.11L424.13 491.11L422.13 493.11Z"/>
<path d="M420.13 471.92L422.13 469.92L424.13 471.92L422.13 473.92Z"/>
<path d="M420.13 452.72L422.13 450.72L424.13 452.72L422.13 454.72Z"/>
<path d="M420.13 433.52L422.13 431.52L424.13 433.52L422.13 435.52Z"/>
<path d="M420.13 414.33L422.13 412.33L424.13 414.33L422.13 416.33Z"/>
<path d="M420.13 395.13L422.13 393.13L424.13 395.13L422.13 397.13Z"/>
<path d="M420.13 375.94L422.13 373.94L424.13 375.94L422.13 377.94Z"/>
<path d="M420.13 356.74L422.13 354.74L424.13 356.74L422.13 358.74Z"/>
<path d="M420.13 337.54L422.13 335.54L424.13 337.54L422.13 339.54Z"/>
<path d="M420.13 318.35L422.13 316.35L424.13 318.35L422.13 320.35Z"/>
<path d="M420.13 299.15L422.13 297.15L424.13 299.15L422.13 301.15Z"/>
<path d="M420.13 279.96L422.13 277.96L424.13 279.96L422.13 281.96Z"/>
<path d="M420.13 260.76L422.13 258.76L424.13 260.76L422.13 262.76Z"/>
<path d="M420.13 241.56L422.13 239.56L424.13 241.56L422.13 243.56Z"/>
<path d="M420.13 222.37L422.13 220.37L424.13 222.37L422.13 224.37Z"/>
<path d="M420.13 203.17L422.13 201.17L424.13 203.17L422.13 205.17Z"/>
<path d="M420.13 183.98L422.13 181.98L424.13 183.98L422.13 185.98Z"/>
<path d="M420.13 164.78L422.13 162.78L424.13 164.78L422.13 166.78Z"/>
<path d="M420.13 145.58L422.13 143.58L424.13 145.58L422.13 147.58Z"/>
<path d="M420.13 126.39L422.13 124.39L424.13 126.39L422.13 128.39Z"/>
<path d="M420.13 107.19L422.13 105.19L424.13 107.19L422.13 109.19Z"/>
<path d="M420.13 88L422.13 86L424.13 88L422.13 90Z"/>
<path d="M420.13 68.8L422.13 66.8L424.13 68.8L422.13 70.8Z"/>
<path d="M439.32 587.09L441.32 585.09L443.32 587.09L441.32 589.09Z"/>
<path d="M439.32 567.9L441.32 565.9L443.32 567.9L441.32 569.9Z"/>
<path d="M439.32 548.7L441.32 546.7L443.32 548.7L441.32 550.7Z"/>
<path d="M439.32 529.5L441.32 527.5L443.32 529.5L441.32 531.5Z"/>
<path d="M439.32 510.31L441.32 508.31L443.32 510.31L441.32 512.31Z"/>
<path d="M439.32 491.11L441.32 489.11L443.32 491.11L441.32 493.11Z"/>
<path d="M439.32 471.92L441.32 469.92L443.32 471.92L441.32 473.92Z"/>
<path d="M439.32 452.72L441.32 450.72L443.32 452.72L441.32 454.72Z"/>
<path d="M439.32 433.52L441.32 431.52L443.32 433.52L441.32 435.52Z"/>
<path d="M439.32 414.33L441.32 412.33L443.32 414.33L441.32 416.33Z"/>
<path d="M439.32 395.13L441.32 393.13L443.32 395.13L441.32 397.13Z"/>
<path d="M439.32 375.94L441.32 373.94L443.32 375.94L441.32 377.94Z"/>
<path d="M439.32 356.74L441.32 354.74L443.32 356.74L441.32 358.74Z"/>
<path d="M439.32 337.54L441.32 335.54L443.32 337.54L441.32 339.54Z"/>
<path d="M439.32 318.35L441.32 316.35L443.32 318.35L441.32 320.35Z"/>
<path d="M439.32 299.15L441.32 297.15L443.32 299.15L441.32 301.15Z"/>
<path d="M439.32 279.96L441.32 277.96L443.32 279.96L441.32 281.96Z"/>
<path d="M439.32 260.76L441.32 258.76L443.32 260.76L441.32 262.76Z"/>
<path d="M439.32 241.56L441.32 239.56L443.32 241.56L441.32 243.56Z"/>
<path d="M439.32 222.37L441.32 220.37L443.32 222.37L441.32 224.37Z"/>
<path d="M439.32 203.17L441.32 201.17L443.32 203.17L441.32 205.17Z"/>
<path d="M439.32 183.98L441.32 181.98L443.32 183.98L441.32 185.98Z"/>
<path d="M439.32 164.78L441.32 162.78L443.32 164.78L441.32 166.78Z"/>
<path d="M439.32 145.58L441.32 143.58L443.32 145.58L441.32 147.58Z"/>
<path d="M439.32 126.39L441.32 124.39L443.32 126.39L441.32 128.39Z"/>
<path d="M439.32 107.19L441.32 105.19L443.32 107.19L441.32 109.19Z"/>
<path d="M439.32 88L441.32 86L443.32 88L441.32 90Z"/>
<path d="M439.32 68.8L441.32 66.8L443.32 68.8L441.32 70.8Z"/>
<path d="M458.52 587.09L460.52 585.09L462.52 587.09L460.52 589.09Z"/>
<path d="M458.52 567.9L460.52 565.9L462.52 567.9L460.52 569.9Z"/>
<path d="M458.52 548.7L460.52 546.7L462.52 548.7L460.52 550.7Z"/>
<path d="M458.52 529.5L460.52 527.5L462.52 529.5L460.52 531.5Z"/>
<path d="M458.52 510.31L460.52 508.31L462.52 510.31L460.52 512.31Z"/>
<path d="M458.52 491.11L460.52 489.11L462.52 491.11L460.52 493.11Z"/>
<path d="M458.52 471.92L460.52 469.92L462.52 471.92L460.52 473.92Z"/>
<path d="M458.52 452.72L460.52 450.72L462.52 452.72L460.52 454.72Z"/>
<path d="M458.52 433.52L460.52 431.52L462.52 433.52L460.52 435.52Z"/>
<path d="M458.52 414.33L460.52 412.33L462.52 414.33L460.52 416.33Z"/>
<path d="M458.52 395.13L460.52 393.13L462.52 395.13L460.52 397.13Z"/>
<path d="M458.52 375.94L460.52 373.94L462.52 375.94L460.52 377.94Z"/>
<path d="M458.52 356.74L460.52 354.74L462.52 356.74L460.52 358.74Z"/>
<path d="M458.52 337.54L460.52 335.54L462.52 337.54L460.52 339.54Z"/>
<path d="M458.52 318.35L460.52 316.35L462.52 318.35L460.52 320.35Z"/>
<path d="M458.52 299.15L460.52 297.15L462.52 299.15L460.52 301.15Z"/>
<path d="M458.52 279.96L460.52 277.96L462.52 279.96L460.52 281.96Z"/>
<path d="M458.52 260.76L460.52 258.76L462.52 260.76L460.52 262.76Z"/>
<path d="M458.52 241.56L460.52 239.56L462.52 241.56L460.52 243.56Z"/>
<path d="M458.52 222.37L460.52 220.37L462.52 222.37L460.52 224.37Z"/>
<path d="M458.52 203.17L460.52 201.17L462.52 203.17L460.52 205.17Z"/>
<path d="M458.52 183.98L460.52 181.98L462.52 183.98L460.52 185.98Z"/>
<path d="M458.52 164.78L460.52 162.78L462.52 164.78L460.52 166.78Z"/>
<path d="M458.52 145.58L460.52 143.58L462.52 145.58L460.52 147.58Z"/>
<path d="M458.52 126.39L460.52 124.39L462.52 126.39L460.52 128.39Z"/>
<path d="M458.52 107.19L460.52 105.19L462.52 107.19L460.52 109.19Z"/>
<path d="M458.52 88L460.52 86L462.52 88L460.52 90Z"/>
<path d="M458.52 68.8L460.52 66.8L462.52 68.8L460.52 70.8Z"/>
<path d="M477.72 587.09L479.72 585.09L481.72 587.09L479.72 589.09Z"/>
<path d="M477.72 567.9L479.72 565.9L481.72 567.9L479.72 569.9Z"/>
<path d="M477.72 548.7L479.72 546.7L481.72 548.7L479.72 550.7Z"/>
<path d="M477.72 529.5L479.72 527.5L481.72 529.5L479.72 531.5Z"/>
<path d="M477.72 510.31L479.72 508.31L481.72 510.31L479.72 512.31Z"/>
<path d="M477.72 491.11L479.72 489.11L481.72 491.11L479.72 493.11Z"/>
<path d="M477.72 471.92L479.72 469.92L481.72 471.92L479.72 473.92Z"/>
<path d="M477.72 452.72L479.72 450.72L481.72 452.72L479.72 454.72Z"/>
<path d="M477.72 433.52L479.72 431.52L481.72 433.52L479.72 435.52Z"/>
<path d="M477.72 414.33L479.72 412.33L481.72 414.33L479.72 416.33Z"/>
<path d="M477.72 395.13L479.72 393.13L481.72 395.13L479.72 397.13Z"/>
<path d="M477.72 375.94L479.72 373.94L481.72 375.94L479.72 377.94Z"/>
<path d="M477.72 356.74L479.72 354.74L481.72 356.74L479.72 358.74Z"/>
<path d="M477.72 337.54L479.72 335.54L481.72 337.54L479.72 339.54Z"/>
<path d="M477.72 318.35L479.72 316.35L481.72 318.35L479.72 320.35Z"/>
<path d="M477.72 299.15L479.72 297.15L481.72 299.15L479.72 301.15Z"/>
<path d="M477.72 279.96L479.72 277.96L481.72 279.96L479.72 281.96Z"/>
<path d="M477.72 260.76L479.72 258.76L481.72 260.76L479.72 262.76Z"/>
<path d="M477.72 241.56L479.72 239.56L481.72 241.56L479.72 243.56Z"/>
<path d="M477.72 222.37L479.72 220.37L481.72 222.37L479.72 224.37Z"/>
<path d="M477.72 203.17L479.72 201.17L481.72 203.17L479.72 205.17Z"/>
<path d="M477.72 183.98L479.72 181.98L481.72 183.98L479.72 185.98Z"/>
<path d="M477.72 164.78L479.72 162.78L481.72 164.78L479.72 166.78Z"/>
<path d="M477.72 145.58L479.72 143.58L481.72 145.58L479.72 147.58Z"/>
<path d="M477.72 126.39L479.72 124.39L481.72 126.39L479.72 128.39Z"/>
<path d="M477.72 107.19L479.72 105.19L481.72 107.19L479.72 109.19Z"/>
<path d="M477.72 88L479.72 86L481.72 88L479.72 90Z"/>
<path d="M477.72 68.8L479.72 66.8L481.72 68.8L479.72 70.8Z"/>
<path d="M496.91 587.09L498.91 585.09L500.91 587.09L498.91 589.09Z"/>
<path d="M496.91 567.9L498.91 565.9L500.91 567.9L498.91 569.9Z"/>
<path d="M496.91 548.7L498.91 546.7L500.91 548.7L498.91 550.7Z"/>
<path d="M496.91 529.5L498.91 527.5L500.91 529.5L498.91 531.5Z"/>
<path d="M496.91 510.31L498.91 508.31L500.91 510.31L498.91 512.31Z"/>
<path d="M496.91 491.11L498.91 489.11L500.91 491.11L498.91 493.11Z"/>
<path d="M496.91 471.92L498.91 469.92L500.91 471.92L498.91 473.92Z"/>
<path d="M496.91 452.72L498.91 450.72L500.91 452.72L498.91 454.72Z"/>
<path d="M496.91 433.52L498.91 431.52L500.91 433.52L498.91 435.52Z"/>
<path d="M496.91 414.33L498.91 412.33L500.91 414.33L498.91 416.33Z"/>
<path d="M496.91 395.13L498.91 393.13L500.91 395.13L498.91 397.13Z"/>
<path d="M496.91 375.94L498.91 373.94L500.91 375.94L498.91 377.94Z"/>
<path d="M496.91 356.74L498.91 354.74L500.91 356.74L498.91 358.74Z"/>
<path d="M496.91 337.54L498.91 335.54L500.91 337.54L498.91 339.54Z"/>
<path d="M496.91 318.35L498.91 316.35L500.91 318.35L498.91 320.35Z"/>
<path d="M496.91 299.15L498.91 297.15L500.91 299.15L498.91 301.15Z"/>
<path d="M496.91 279.96L498.91 277.96L500.91 279.96L498.91 281.96Z"/>
<path d="M496.91 260.76L498.91 258.76L500.91 260.76L498.91 262.76Z"/>
<path d="M496.91 241.56L498.91 239.56L500.91 241.56L498.91 243.56Z"/>
<path d="M496.91 222.37L498.91 220.37L500.91 222.37L498.91 224.37Z"/>
<path d="M496.91 203.17L498.91 201.17L500.91 203.17L498.91 205.17Z"/>
<path d="M496.91 183.98L498.91 181.98L500.91 183.98L498.91 185.98Z"/>
<path d="M496.91 164.78L498.91 162.78L500.91 164.78L498.91 166.78Z"/>
<path d="M496.91 145.58L498.91 143.58L500.91 145.58L498.91 147.58Z"/>
<path d="M496.91 126.39L498.91 124.39L500.91 126.39L498.91 128.39Z"/>
<path d="M496.91 107.19L498.91 105.19L500.91 107.19L498.91 109.19Z"/>
<path d="M496.91 88L498.91 86L500.91 88L498.91 90Z"/>
<path d="M496.91 68.8L498.91 66.8L500.91 68.8L498.91 70.8Z"/>
<path d="M516.11 587.09L518.11 585.09L520.11 587.09L518.11 589.09Z"/>
<path d="M516.11 567.9L518.11 565.9L520.11 567.9L518.11 569.9Z"/>
<path d="M516.11 548.7L518.11 546.7L520.11 548.7L518.11 550.7Z"/>
<path d="M516.11 529.5L518.11 527.5L520.11 529.5L518.11 531.5Z"/>
<path d="M516.11 510.31L518.11 508.31L520.11 510.31L518.11 512.31Z"/>
<path d="M516.11 491.11L518.11 489.11L520.11 491.11L518.11 493.11Z"/>
<path d="M516.11 471.92L518.11 469.92L520.11 471.92L518.11 473.92Z"/>
<path d="M516.11 452.72L518.11 450.72L520.11 452.72L518.11 454.72Z"/>
<path d="M516.11 433.52L518.11 431.52L520.11 433.52L518.11 435.52Z"/>
<path d="M516.11 414.33L518.11 412.33L520.11 414.33L518.11 416.33Z"/>
<path d="M516.11 395.13L518.11 393.13L520.11 395.13L518.11 397.13Z"/>
<path d="M516.11 375.94L518.11 373.94L520.11 375.94L518.11 377.94Z"/>
<path d="M516.11 356.74L518.11 354.74L520.11 356.74L518.11 358.74Z"/>
<path d="M516.11 337.54L518.11 335.54L520.11 337.54L518.11 339.54Z"/>
<path d="M516.11 318.35L518.11 316.35L520.11 318.35L518.11 320.35Z"/>
<path d="M516.11 299.15L518.11 297.15L520.11 299.15L518.11 301.15Z"/>
<path d="M516.11 279.96L518.11 277.96L520.11 279.96L518.11 281.96Z"/>
<path d="M516.11 260.76L518.11 258.76L520.11 260.76L518.11 262.76Z"/>
<path d="M516.11 241.56L518.11 239.56L520.11 241.56L518.11 243.56Z"/>
<path d="M516.11 222.37L518.11 220.37L520.11 222.37L518.11 224.37Z"/>
<path d="M516.11 203.17L518.11 201.17L520.11 203.17L518.11 205.17Z"/>
<path d="M516.11 183.98L518.11 181.98L520.11 183.98L518.11 185.98Z"/>
<path d="M516.11 164.78L518.11 162.78L520.11 164.78L518.11 166.78Z"/>
<path d="M516.11 145.58L518.11 143.58L520.11 145.58L518.11 147.58Z"/>
<path d="M516.11 126.39L518.11 124.39L520.11 126.39L518.11 128.39Z"/>
<path d="M516.11 107.19L518.11 105.19L520.11 107.19L518.11 109.19Z"/>
<path d="M516.11 88L518.11 86L520.11 88L518.11 90Z"/>
<path d="M516.11 68.8L518.11 66.8L520.11 68.8L518.11 70.8Z"/>
<path d="M535.3 587.09L537.3 585.09L539.3 587.09L537.3 589.09Z"/>
<path d="M535.3 567.9L537.3 565.9L539.3 567.9L537.3 569.9Z"/>
<path d="M535.3 548.7L537.3 546.7L539.3 548.7L537.3 550.7Z"/>
<path d="M535.3 529.5L537.3 527.5L539.3 529.5L537.3 531.5Z"/>
<path d="M535.3 510.31L537.3 508.31L539.3 510.31L537.3 512.31Z"/>
<path d="M535.3 491.11L537.3 489.11L539.3 491.11L537.3 493.11Z"/>
<path d="M535.3 471.92L537.3 469.92L539.3 471.92L537.3 473.92Z"/>
<path d="M535.3 452.72L537.3 450.72L539.3 452.72L537.3 454.72Z"/>
<path d="M535.3 433.52L537.3 431.52L539.3 433.52L537.3 435.52Z"/>
<path d="M535.3 414.33L537.3 412.33L539.3 414.33L537.3 416.33Z"/>
<path d="M535.3 395.13L537.3 393.13L539.3 395.13L537.3 397.13Z"/>
<path d="M535.3 375.94L537.3 373.94L539.3 375.94L537.3 377.94Z"/>
<path d="M535.3 356.74L537.3 354.74L539.3 356.74L537.3 358.74Z"/>
<path d="M535.3 337.54L537.3 335.54L539.3 337.54L537.3 339.54Z"/>
<path d="M535.3 318.35L537.3 316.35L539.3 318.35L537.3 320.35Z"/>
<path d="M535.3 299.15L537.3 297.15L539.3 299.15L537.3 301.15Z"/>
<path d="M535.3 279.96L537.3 277.96L539.3 279.96L537.3 281.96Z"/>
<path d="M535.3 260.76L537.3 258.76L539.3 260.76L537.3 262.76Z"/>
<path d="M535.3 241.56L537.3 239.56L539.3 241.56L537.3 243.56Z"/>
<path d="M535.3 222.37L537.3 220.37L539.3 222.37L537.3 224.37Z"/>
<path d="M535.3 203.17L537.3 201.17L539.3 203.17L537.3 205.17Z"/>
<path d="M535.3 183.98L537.3 181.98L539.3 183.98L537.3 185.98Z"/>
<path d="M535.3 164.78L537.3 162.78L539.3 164.78L537.3 166.78Z"/>
<path d="M535.3 145.58L537.3 143.58L539.3 145.58L537.3 147.58Z"/>
<path d="M535.3 126.39L537.3 124.39L539.3 126.39L537.3 128.39Z"/>
<path d="M535.3 107.19L537.3 105.19L539.3 107.19L537.3 109.19Z"/>
<path d="M535.3 88L537.3 86L539.3 88L537.3 90Z"/>
<path d="M535.3 68.8L537.3 66.8L539.3 68.8L537.3 70.8Z"/>
<path d="M554.5 587.09L556.5 585.09L558.5 587.09L556.5 589.09Z"/>
<path d="M554.5 567.9L556.5 565.9L558.5 567.9L556.5 569.9Z"/>
<path d="M554.5 548.7L556.5 546.7L558.5 548.7L556.5 550.7Z"/>
<path d="M554.5 529.5L556.5 527.5L558.5 529.5L556.5 531.5Z"/>
<path d="M554.5 510.31L556.5 508.31L558.5 510.31L556.5 512.31Z"/>
<path d="M554.5 491.11L556.5 489.11L558.5 491.11L556.5 493.11Z"/>
<path d="M554.5 471.92L556.5 469.92L558.5 471.92L556.5 473.92Z"/>
<path d="M554.5 452.72L556.5 450.72L558.5 452.72L556.5 454.72Z"/>
<path d="M554.5 433.52L556.5 431.52L558.5 433.52L556.5 435.52Z"/>
<path d="M554.5 414.33L556.5 412.33L558.5 414.33L556.5 416.33Z"/>
<path d="M554.5 395.13L556.5 393.13L558.5 395.13L556.5 397.13Z"/>
<path d="M554.5 375.94L556.5 373.94L558.5 375.94L556.5 377.94Z"/>
<path d="M554.5 356.74L556.5 354.74L558.5 356.74L556.5 358.74Z"/>
<path d="M554.5 337.54L556.5 335.54L558.5 337.54L556.5 339.54Z"/>
<path d="M554.5 318.35L556.5 316.35L558.5 318.35L556.5 320.35Z"/>
<path d="M554.5 299.15L556.5 297.15L558.5 299.15L556.5 301.15Z"/>
<path d="M554.5 279.96L556.5 277.96L558.5 279.96L556.5 281.96Z"/>
<path d="M554.5 260.76L556.5 258.76L558.5 260.76L556.5 262.76Z"/>
<path d="M554.5 241.56L556.5 239.56L558.5 241.56L556.5 243.56Z"/>
<path d="M554.5 222.37L556.5 220.37L558.5 222.37L556.5 224.37Z"/>
<path d="M554.5 203.17L556.5 201.17L558.5 203.17L556.5 205.17Z"/>
<path d="M554.5 183.98L556.5 181.98L558.5 183.98L556.5 185.98Z"/>
<path d="M554.5 164.78L556.5 162.78L558.5 164.78L556.5 166.78Z"/>
<path d="M554.5 145.58L556.5 143.58L558.5 145.58L556.5 147.58Z"/>
<path d="M554.5 126.39L556.5 124.39L558.5 126.39L556.5 128.39Z"/>
<path d="M554.5 107.19L556.5 105.19L558.5 107.19L556.5 109.19Z"/>
<path d="M554.5 88L556.5 86L558.5 88L556.5 90Z"/>
<path d="M554.5 68.8L556.5 66.8L558.5 68.8L556.5 70.8Z"/>
<path d="M573.7 587.09L575.7 585.09L577.7 587.09L575.7 589.09Z"/>
<path d="M573.7 567.9L575.7 565.9L577.7 567.9L575.7 569.9Z"/>
<path d="M573.7 548.7L575.7 546.7L577.7 548.7L575.7 550.7Z"/>
<path d="M573.7 529.5L575.7 527.5L577.7 529.5L575.7 531.5Z"/>
<path d="M573.7 510.31L575.7 508.31L577.7 510.31L575.7 512.31Z"/>
<path d="M573.7 491.11L575.7 489.11L577.7 491.11L575.7 493.11Z"/>
<path d="M573.7 471.92L575.7 469.92L577.7 471.92L575.7 473.92Z"/>
<path d="M573.7 452.72L575.7 450.72L577.7 452.72L575.7 454.72Z"/>
<path d="M573.7 433.52L575.7 431.52L577.7 433.52L575.7 435.52Z"/>
<path d="M573.7 414.33L575.7 412.33L577.7 414.33L575.7 416.33Z"/>
<path d="M573.7 395.13L575.7 393.13L577.7 395.13L575.7 397.13Z"/>
<path d="M573.7 375.94L575.7 373.94L577.7 375.94L575.7 377.94Z"/>
<path d="M573.7 356.74L575.7 354.74L577.7 356.74L575.7 358.74Z"/>
<path d="M573.7 337.54L575.7 335.54L577.7 337.54L575.7 339.54Z"/>
<path d="M573.7 318.35L575.7 316.35L577.7 318.35L575.7 320.35Z"/>
<path d="M573.7 299.15L575.7 297.15L577.7 299.15L575.7 301.15Z"/>
<path d="M573.7 279.96L575.7 277.96L577.7 279.96L575.7 281.96Z"/>
<path d="M573.7 260.76L575.7 258.76L577.7 260.76L575.7 262.76Z"/>
<path d="M573.7 241.56L575.7 239.56L577.7 241.56L575.7 243.56Z"/>
<path d="M573.7 222.37L575.7 220.37L577.7 222.37L575.7 224.37Z"/>
<path d="M573.7 203.17L575.7 201.17L577.7 203.17L575.7 205.17Z"/>
<path d="M573.7 183.98L575.7 181.98L577.7 183.98L575.7 185.98Z"/>
<path d="M573.7 164.78L575.7 162.78L577.7 164.78L575.7 166.78Z"/>
<path d="M573.7 145.58L575.7 143.58L577.7 145.58L575.7 147.58Z"/>
<path d="M573.7 126.39L575.7 124.39L577.7 126.39L575.7 128.39Z"/>
<path d="M573.7 107.19L575.7 105.19L577.7 107.19L575.7 109.19Z"/>
<path d="M573.7 88L575.7 86L577.7 88L575.7 90Z"/>
<path d="M573.7 68.8L575.7 66.8L577.7 68.8L575.7 70.8Z"/>
<path d="M592.89 587.09L594.89 585.09L596.89 587.09L594.89 589.09Z"/>
<path d="M592.89 567.9L594.89 565.9L596.89 567.9L594.89 569.9Z"/>
<path d="M592.89 548.7L594.89 546.7L596.89 548.7L594.89 550.7Z"/>
<path d="M592.89 529.5L594.89 527.5L596.89 529.5L594.89 531.5Z"/>
<path d="M592.89 510.31L594.89 508.31L596.89 510.31L594.89 512.31Z"/>
<path d="M592.89 491.11L594.89 489.11L596.89 491.11L594.89 493.11Z"/>
<path d="M592.89 471.92L594.89 469.92L596.89 471.92L594.89 473.92Z"/>
<path d="M592.89 452.72L594.89 450.72L596.89 452.72L594.89 454.72Z"/>
<path d="M592.89 433.52L594.89 431.52L596.89 433.52L594.89 435.52Z"/>
<path d="M592.89 414.33L594.89 412.33L596.89 414.33L594.89 416.33Z"/>
<path d="M592.89 395.13L594.89 393.13L596.89 395.13L594.89 397.13Z"/>
<path d="M592.89 375.94L594.89 373.94L596.89 375.94L594.89 377.94Z"/>
<path d="M592.89 356.74L594.89 354.74L596.89 356.74L594.89 358.74Z"/>
<path d="M592.89 337.54L594.89 335.54L596.89 337.54L594.89 339.54Z"/>
<path d="M592.89 318.35L594.89 316.35L596.89 318.35L594.89 320.35Z"/>
<path d="M592.89 299.15L594.89 297.15L596.89 299.15L594.89 301.15Z"/>
<path d="M592.89 279.96L594.89 277.96L596.89 279.96L594.89 281.96Z"/>
<path d="M592.89 260.76L594.89 258.76L596.89 260.76L594.89 262.76Z"/>
<path d="M592.89 241.56L594.89 239.56L596.89 241.56L594.89 243.56Z"/>
<path d="M592.89 222.37L594.89 220.37L596.89 222.37L594.89 224.37Z"/>
<path d="M592.89 203.17L594.89 201.17L596.89 203.17L594.89 205.17Z"/>
<path d="M592.89 183.98L594.89 181.98L596.89 183.98L594.89 185.98Z"/>
<path d="M592.89 164.78L594.89 162.78L596.89 164.78L594.89 166.78Z"/>
<path d="M592.89 145.58L594.89 143.58L596.89 145.58L594.89 147.58Z"/>
<path d="M592.89 126.39L594.89 124.39L596.89 126.39L594.89 128.39Z"/>
<path d="M592.89 107.19L594.89 105.19L596.89 107.19L594.89 109.19Z"/>
<path d="M592.89 88L594.89 86L596.89 88L594.89 90Z"/>
<path d="M592.89 68.8L594.89 66.8L596.89 68.8L594.89 70.8Z"/>
</g>
<g fill="none" stroke="#388632" stroke-linecap="round" stroke-linejoin="round">
<rect x="38.1" y="30.7" width="595.9" height="594.6" stroke-width="1.6"/>
<circle cx="57.5" cy="49.5" r="13.7" stroke-width="1.45"/>
<circle cx="57.5" cy="605.9" r="13.7" stroke-width="1.45"/>
<circle cx="614.4" cy="49.5" r="13.7" stroke-width="1.45"/>
<circle cx="614.4" cy="605.9" r="13.7" stroke-width="1.45"/>
<circle cx="172.58" cy="126.39" r="6.5" stroke-width="1.7"/>
<circle cx="191.78" cy="126.39" r="6.5" stroke-width="1.7"/>
<ellipse cx="182.18" cy="126.59" rx="18.6" ry="19.5" stroke-width="1.7"/>
<path d="M201.13 114.64A22.4 22.4 0 1 0 201.13 138.53Z" stroke-width="1.8"/>
<circle cx="172.58" cy="183.98" r="6.5" stroke-width="1.7"/>
<circle cx="191.78" cy="183.98" r="6.5" stroke-width="1.7"/>
<ellipse cx="182.18" cy="184.18" rx="18.6" ry="19.5" stroke-width="1.7"/>
<path d="M201.13 172.23A22.4 22.4 0 1 0 201.13 196.12Z" stroke-width="1.8"/>
<circle cx="172.58" cy="241.56" r="6.5" stroke-width="1.7"/>
<circle cx="191.78" cy="241.56" r="6.5" stroke-width="1.7"/>
<ellipse cx="182.18" cy="241.76" rx="18.6" ry="19.5" stroke-width="1.7"/>
<path d="M201.13 229.82A22.4 22.4 0 1 0 201.13 253.71Z" stroke-width="1.8"/>
<circle cx="172.58" cy="299.15" r="6.5" stroke-width="1.7"/>
<circle cx="191.78" cy="299.15" r="6.5" stroke-width="1.7"/>
<ellipse cx="182.18" cy="299.35" rx="18.6" ry="19.5" stroke-width="1.7"/>
<path d="M201.13 287.41A22.4 22.4 0 1 0 201.13 311.3Z" stroke-width="1.8"/>
<circle cx="172.58" cy="356.74" r="6.5" stroke-width="1.7"/>
<circle cx="191.78" cy="356.74" r="6.5" stroke-width="1.7"/>
<ellipse cx="182.18" cy="356.94" rx="18.6" ry="19.5" stroke-width="1.7"/>
<path d="M201.13 345A22.4 22.4 0 1 0 201.13 368.88Z" stroke-width="1.8"/>
<circle cx="172.58" cy="414.33" r="6.5" stroke-width="1.7"/>
<circle cx="191.78" cy="414.33" r="6.5" stroke-width="1.7"/>
<ellipse cx="182.18" cy="414.53" rx="18.6" ry="19.5" stroke-width="1.7"/>
<path d="M201.13 402.58A22.4 22.4 0 1 0 201.13 426.47Z" stroke-width="1.8"/>
<circle cx="172.58" cy="471.92" r="6.5" stroke-width="1.7"/>
<circle cx="191.78" cy="471.92" r="6.5" stroke-width="1.7"/>
<ellipse cx="182.18" cy="472.12" rx="18.6" ry="19.5" stroke-width="1.7"/>
<path d="M201.13 460.17A22.4 22.4 0 1 0 201.13 484.06Z" stroke-width="1.8"/>
<circle cx="172.58" cy="529.5" r="6.5" stroke-width="1.7"/>
<circle cx="191.78" cy="529.5" r="6.5" stroke-width="1.7"/>
<ellipse cx="182.18" cy="529.7" rx="18.6" ry="19.5" stroke-width="1.7"/>
<path d="M201.13 517.76A22.4 22.4 0 1 0 201.13 541.65Z" stroke-width="1.8"/>
<rect x="241.91" y="232.11" width="34.35" height="76.14" stroke-width="1.8"/>
<path d="M242.51 251.16L275.66 251.16" stroke-width="1.9"/>
<path d="M242.51 270.36L275.66 270.36" stroke-width="1.9"/>
<path d="M242.51 289.55L275.66 289.55" stroke-width="1.9"/>
<circle cx="230.17" cy="241.56" r="6.6" stroke-width="1.8"/>
<circle cx="287.76" cy="241.56" r="6.6" stroke-width="1.8"/>
<path d="M236.77 241.56L241.91 241.56" stroke-width="1.6"/>
<path d="M276.26 241.56L281.16 241.56" stroke-width="1.6"/>
<circle cx="230.17" cy="260.76" r="6.6" stroke-width="1.8"/>
<circle cx="287.76" cy="260.76" r="6.6" stroke-width="1.8"/>
<path d="M236.77 260.76L241.91 260.76" stroke-width="1.6"/>
<path d="M276.26 260.76L281.16 260.76" stroke-width="1.6"/>
<circle cx="230.17" cy="279.96" r="6.6" stroke-width="1.8"/>
<circle cx="287.76" cy="279.96" r="6.6" stroke-width="1.8"/>
<path d="M236.77 279.96L241.91 279.96" stroke-width="1.6"/>
<path d="M276.26 279.96L281.16 279.96" stroke-width="1.6"/>
<circle cx="230.17" cy="299.15" r="6.6" stroke-width="1.8"/>
<circle cx="287.76" cy="299.15" r="6.6" stroke-width="1.8"/>
<path d="M236.77 299.15L241.91 299.15" stroke-width="1.6"/>
<path d="M276.26 299.15L281.16 299.15" stroke-width="1.6"/>
<rect x="241.91" y="424.07" width="34.35" height="76.14" stroke-width="1.8"/>
<path d="M242.51 443.12L275.66 443.12" stroke-width="1.9"/>
<path d="M242.51 462.32L275.66 462.32" stroke-width="1.9"/>
<path d="M242.51 481.51L275.66 481.51" stroke-width="1.9"/>
<circle cx="230.17" cy="433.52" r="6.6" stroke-width="1.8"/>
<circle cx="287.76" cy="433.52" r="6.6" stroke-width="1.8"/>
<path d="M236.77 433.52L241.91 433.52" stroke-width="1.6"/>
<path d="M276.26 433.52L281.16 433.52" stroke-width="1.6"/>
<circle cx="230.17" cy="452.72" r="6.6" stroke-width="1.8"/>
<circle cx="287.76" cy="452.72" r="6.6" stroke-width="1.8"/>
<path d="M236.77 452.72L241.91 452.72" stroke-width="1.6"/>
<path d="M276.26 452.72L281.16 452.72" stroke-width="1.6"/>
<circle cx="230.17" cy="471.92" r="6.6" stroke-width="1.8"/>
<circle cx="287.76" cy="471.92" r="6.6" stroke-width="1.8"/>
<path d="M236.77 471.92L241.91 471.92" stroke-width="1.6"/>
<path d="M276.26 471.92L281.16 471.92" stroke-width="1.6"/>
<circle cx="230.17" cy="491.11" r="6.6" stroke-width="1.8"/>
<circle cx="287.76" cy="491.11" r="6.6" stroke-width="1.8"/>
<path d="M236.77 491.11L241.91 491.11" stroke-width="1.6"/>
<path d="M276.26 491.11L281.16 491.11" stroke-width="1.6"/>
<rect x="337.89" y="193.72" width="34.35" height="37.75" stroke-width="1.8"/>
<path d="M338.49 212.77L371.64 212.77" stroke-width="1.9"/>
<circle cx="326.15" cy="203.17" r="6.6" stroke-width="1.8"/>
<circle cx="383.74" cy="203.17" r="6.6" stroke-width="1.8"/>
<path d="M332.75 203.17L337.89 203.17" stroke-width="1.6"/>
<path d="M372.24 203.17L377.14 203.17" stroke-width="1.6"/>
<circle cx="326.15" cy="222.37" r="6.6" stroke-width="1.8"/>
<circle cx="383.74" cy="222.37" r="6.6" stroke-width="1.8"/>
<path d="M332.75 222.37L337.89 222.37" stroke-width="1.6"/>
<path d="M372.24 222.37L377.14 222.37" stroke-width="1.6"/>
<rect x="414.68" y="193.72" width="34.35" height="37.75" stroke-width="1.8"/>
<path d="M415.28 212.77L448.43 212.77" stroke-width="1.9"/>
<circle cx="402.93" cy="203.17" r="6.6" stroke-width="1.8"/>
<circle cx="460.52" cy="203.17" r="6.6" stroke-width="1.8"/>
<path d="M409.53 203.17L414.68 203.17" stroke-width="1.6"/>
<path d="M449.03 203.17L453.92 203.17" stroke-width="1.6"/>
<circle cx="402.93" cy="222.37" r="6.6" stroke-width="1.8"/>
<circle cx="460.52" cy="222.37" r="6.6" stroke-width="1.8"/>
<path d="M409.53 222.37L414.68 222.37" stroke-width="1.6"/>
<path d="M449.03 222.37L453.92 222.37" stroke-width="1.6"/>
<rect x="395.48" y="308.9" width="34.35" height="37.75" stroke-width="1.8"/>
<path d="M396.08 327.95L429.23 327.95" stroke-width="1.9"/>
<circle cx="383.74" cy="318.35" r="6.6" stroke-width="1.8"/>
<circle cx="441.32" cy="318.35" r="6.6" stroke-width="1.8"/>
<path d="M390.34 318.35L395.48 318.35" stroke-width="1.6"/>
<path d="M429.83 318.35L434.72 318.35" stroke-width="1.6"/>
<circle cx="383.74" cy="337.54" r="6.6" stroke-width="1.8"/>
<circle cx="441.32" cy="337.54" r="6.6" stroke-width="1.8"/>
<path d="M390.34 337.54L395.48 337.54" stroke-width="1.6"/>
<path d="M429.83 337.54L434.72 337.54" stroke-width="1.6"/>
<rect x="337.89" y="385.68" width="34.35" height="18.55" stroke-width="1.8"/>
<circle cx="326.15" cy="395.13" r="6.6" stroke-width="1.8"/>
<circle cx="383.74" cy="395.13" r="6.6" stroke-width="1.8"/>
<path d="M332.75 395.13L337.89 395.13" stroke-width="1.6"/>
<path d="M372.24 395.13L377.14 395.13" stroke-width="1.6"/>
<rect x="414.68" y="385.68" width="34.35" height="37.75" stroke-width="1.8"/>
<path d="M415.28 404.73L448.43 404.73" stroke-width="1.9"/>
<circle cx="402.93" cy="395.13" r="6.6" stroke-width="1.8"/>
<circle cx="460.52" cy="395.13" r="6.6" stroke-width="1.8"/>
<path d="M409.53 395.13L414.68 395.13" stroke-width="1.6"/>
<path d="M449.03 395.13L453.92 395.13" stroke-width="1.6"/>
<circle cx="402.93" cy="414.33" r="6.6" stroke-width="1.8"/>
<circle cx="460.52" cy="414.33" r="6.6" stroke-width="1.8"/>
<path d="M409.53 414.33L414.68 414.33" stroke-width="1.6"/>
<path d="M449.03 414.33L453.92 414.33" stroke-width="1.6"/>
<rect x="395.48" y="500.86" width="34.35" height="37.75" stroke-width="1.8"/>
<path d="M396.08 519.91L429.23 519.91" stroke-width="1.9"/>
<circle cx="383.74" cy="510.31" r="6.6" stroke-width="1.8"/>
<circle cx="441.32" cy="510.31" r="6.6" stroke-width="1.8"/>
<path d="M390.34 510.31L395.48 510.31" stroke-width="1.6"/>
<path d="M429.83 510.31L434.72 510.31" stroke-width="1.6"/>
<circle cx="383.74" cy="529.5" r="6.6" stroke-width="1.8"/>
<circle cx="441.32" cy="529.5" r="6.6" stroke-width="1.8"/>
<path d="M390.34 529.5L395.48 529.5" stroke-width="1.6"/>
<path d="M429.83 529.5L434.72 529.5" stroke-width="1.6"/>
<circle cx="479.72" cy="241.56" r="6.6" stroke-width="1.8"/>
<circle cx="479.72" cy="299.15" r="6.6" stroke-width="1.8"/>
<path d="M479.72 248.16L479.72 252.96" stroke-width="1.6"/>
<path d="M479.72 287.75L479.72 292.55" stroke-width="1.6"/>
<circle cx="498.91" cy="241.56" r="6.6" stroke-width="1.8"/>
<circle cx="498.91" cy="299.15" r="6.6" stroke-width="1.8"/>
<path d="M498.91 248.16L498.91 252.96" stroke-width="1.6"/>
<path d="M498.91 287.75L498.91 292.55" stroke-width="1.6"/>
<rect x="470.02" y="252.96" width="38.8" height="34.79" stroke-width="1.8"/>
<path d="M489.31 253.56L489.31 287.15" stroke-width="1.9"/>
<circle cx="479.72" cy="433.52" r="6.6" stroke-width="1.8"/>
<circle cx="479.72" cy="491.11" r="6.6" stroke-width="1.8"/>
<path d="M479.72 440.12L479.72 444.92" stroke-width="1.6"/>
<path d="M479.72 479.71L479.72 484.51" stroke-width="1.6"/>
<rect x="470.22" y="444.92" width="19.2" height="34.79" stroke-width="1.8"/>
<circle cx="326.15" cy="241.56" r="6.6" stroke-width="1.8"/>
<circle cx="326.15" cy="299.15" r="6.6" stroke-width="1.8"/>
<circle cx="345.34" cy="241.56" r="6.6" stroke-width="1.8"/>
<circle cx="345.34" cy="299.15" r="6.6" stroke-width="1.8"/>
<circle cx="364.54" cy="241.56" r="6.6" stroke-width="1.8"/>
<circle cx="364.54" cy="299.15" r="6.6" stroke-width="1.8"/>
<circle cx="383.74" cy="241.56" r="6.6" stroke-width="1.8"/>
<circle cx="383.74" cy="299.15" r="6.6" stroke-width="1.8"/>
<circle cx="402.93" cy="241.56" r="6.6" stroke-width="1.8"/>
<circle cx="402.93" cy="299.15" r="6.6" stroke-width="1.8"/>
<circle cx="422.13" cy="241.56" r="6.6" stroke-width="1.8"/>
<circle cx="422.13" cy="299.15" r="6.6" stroke-width="1.8"/>
<circle cx="441.32" cy="241.56" r="6.6" stroke-width="1.8"/>
<circle cx="441.32" cy="299.15" r="6.6" stroke-width="1.8"/>
<path d="M313 263.66L313 250.76L455.3 250.76L455.3 289.75L313 289.75L313 276.86A6.6 6.6 0 0 0 313 263.66" stroke-width="1.8"/>
<circle cx="326.15" cy="433.52" r="6.6" stroke-width="1.8"/>
<circle cx="326.15" cy="491.11" r="6.6" stroke-width="1.8"/>
<circle cx="345.34" cy="433.52" r="6.6" stroke-width="1.8"/>
<circle cx="345.34" cy="491.11" r="6.6" stroke-width="1.8"/>
<circle cx="364.54" cy="433.52" r="6.6" stroke-width="1.8"/>
<circle cx="364.54" cy="491.11" r="6.6" stroke-width="1.8"/>
<circle cx="383.74" cy="433.52" r="6.6" stroke-width="1.8"/>
<circle cx="383.74" cy="491.11" r="6.6" stroke-width="1.8"/>
<circle cx="402.93" cy="433.52" r="6.6" stroke-width="1.8"/>
<circle cx="402.93" cy="491.11" r="6.6" stroke-width="1.8"/>
<circle cx="422.13" cy="433.52" r="6.6" stroke-width="1.8"/>
<circle cx="422.13" cy="491.11" r="6.6" stroke-width="1.8"/>
<circle cx="441.32" cy="433.52" r="6.6" stroke-width="1.8"/>
<circle cx="441.32" cy="491.11" r="6.6" stroke-width="1.8"/>
<path d="M313 455.62L313 442.72L455.3 442.72L455.3 481.71L313 481.71L313 468.82A6.6 6.6 0 0 0 313 455.62" stroke-width="1.8"/>
<circle cx="326.15" cy="337.54" r="6.6" stroke-width="1.8"/>
<circle cx="364.54" cy="337.54" r="6.6" stroke-width="1.8"/>
<rect x="337.2" y="330.94" width="16.6" height="13.2" stroke-width="1.8"/>
<path d="M332.75 337.54L337.2 337.54" stroke-width="1.6"/>
<path d="M353.8 337.54L357.94 337.54" stroke-width="1.6"/>
<circle cx="326.15" cy="529.5" r="6.6" stroke-width="1.8"/>
<circle cx="364.54" cy="529.5" r="6.6" stroke-width="1.8"/>
<rect x="337.2" y="522.9" width="16.6" height="13.2" stroke-width="1.8"/>
<path d="M332.75 529.5L337.2 529.5" stroke-width="1.6"/>
<path d="M353.8 529.5L357.94 529.5" stroke-width="1.6"/>
<circle cx="249.36" cy="356.74" r="4.1" stroke-width="1.6"/>
<circle cx="287.76" cy="356.74" r="4.1" stroke-width="1.6"/>
<path d="M245.26 356.74L283.66 356.74" stroke-width="1.9"/>
<circle cx="307.15" cy="145.78" r="7.1" stroke-width="2.45"/>
<circle cx="383.74" cy="145.58" r="5.8" stroke-width="1.6"/>
<circle cx="402.93" cy="145.58" r="5.8" stroke-width="1.6"/>
<rect x="377" y="137.8" width="33" height="14.8" stroke-width="1.9"/>
<rect x="546.8" y="380.6" width="38.8" height="67" stroke-width="1.8"/>
<circle cx="556.5" cy="395.13" r="7.4" stroke-width="1.8"/>
<circle cx="556.5" cy="414.33" r="7.4" stroke-width="1.8"/>
<circle cx="556.5" cy="433.52" r="7.4" stroke-width="1.8"/>
<circle cx="575.7" cy="395.13" r="7.4" stroke-width="1.8"/>
<circle cx="575.7" cy="414.33" r="7.4" stroke-width="1.8"/>
<circle cx="575.7" cy="433.52" r="7.4" stroke-width="1.8"/>
<circle cx="518.11" cy="452.72" r="5.8" stroke-width="1.6"/>
<circle cx="518.11" cy="471.92" r="5.8" stroke-width="1.6"/>
<circle cx="518.11" cy="491.11" r="5.8" stroke-width="1.6"/>
<circle cx="529.5" cy="443.6" r="5.8" stroke-width="1.6"/>
<path d="M500.2 435.9L537.2 435.9L537.2 507.8L500.2 507.8L500.2 500.4L503.2 500.4L503.2 443.6L500.2 443.6Z" stroke-width="1.8"/>
<path d="M546.4 491.0L607.5 491.0L607.5 567.3L546.4 567.3" stroke-width="1.8"/>
<path d="M569.55 491L569.55 567.3" stroke-width="1.7"/>
<rect x="546.4" y="491" width="4.8" height="11.91" rx="1.2" stroke-width="1.6"/>
<rect x="546.4" y="556.1" width="4.8" height="11.2" rx="1.2" stroke-width="1.6"/>
<rect x="546.4" y="517.71" width="4.8" height="4.4" rx="1.2" stroke-width="1.6"/>
<rect x="546.4" y="536.9" width="4.8" height="4.4" rx="1.2" stroke-width="1.6"/>
<circle cx="556.5" cy="510.31" r="7" stroke-width="1.7"/>
<path d="M551.2 502.91L562.2 502.91Q564.3 502.91 564.3 505.01L564.3 515.61Q564.3 517.71 562.2 517.71L551.2 517.71" stroke-width="1.7"/>
<path d="M560.6 503.91L563.4 506.71" stroke-width="1.0"/>
<path d="M560.6 516.71L563.4 513.91" stroke-width="1.0"/>
<circle cx="556.5" cy="529.5" r="7" stroke-width="1.7"/>
<path d="M551.2 522.1L562.2 522.1Q564.3 522.1 564.3 524.2L564.3 534.8Q564.3 536.9 562.2 536.9L551.2 536.9" stroke-width="1.7"/>
<path d="M560.6 523.1L563.4 525.9" stroke-width="1.0"/>
<path d="M560.6 535.9L563.4 533.1" stroke-width="1.0"/>
<circle cx="556.5" cy="548.7" r="7" stroke-width="1.7"/>
<path d="M551.2 541.3L562.2 541.3Q564.3 541.3 564.3 543.4L564.3 554Q564.3 556.1 562.2 556.1L551.2 556.1" stroke-width="1.7"/>
<path d="M560.6 542.3L563.4 545.1" stroke-width="1.0"/>
<path d="M560.6 555.1L563.4 552.3" stroke-width="1.0"/>
</g>
<g fill="#388632" stroke="#388632" stroke-width="0.4" opacity="0.999" font-family="'Liberation Sans', Arial, sans-serif">
<text transform="translate(170.2 102.88) scale(0.73 1)" font-size="14.5" letter-spacing="4.79">LD8</text>
<text transform="translate(170.2 160.47) scale(0.73 1)" font-size="14.5" letter-spacing="4.79">LD7</text>
<text transform="translate(170.2 218.06) scale(0.73 1)" font-size="14.5" letter-spacing="4.79">LD6</text>
<text transform="translate(170.2 275.64) scale(0.73 1)" font-size="14.5" letter-spacing="4.79">LD5</text>
<text transform="translate(170.2 333.23) scale(0.73 1)" font-size="14.5" letter-spacing="4.79">LD4</text>
<text transform="translate(170.2 390.82) scale(0.73 1)" font-size="14.5" letter-spacing="4.79">LD3</text>
<text transform="translate(170.2 448.41) scale(0.73 1)" font-size="14.5" letter-spacing="4.79">LD2</text>
<text transform="translate(170.2 506) scale(0.73 1)" font-size="14.5" letter-spacing="3.63">LD1</text>
<text transform="translate(247 170.47) scale(0.73 1)" font-size="14.5" letter-spacing="4.93">R20</text>
<text transform="translate(247 189.67) scale(0.73 1)" font-size="14.5" letter-spacing="3.83">R21</text>
<text transform="translate(247 208.86) scale(0.73 1)" font-size="14.5" letter-spacing="4.93">R18</text>
<text transform="translate(247 228.06) scale(0.73 1)" font-size="14.5" letter-spacing="4.93">R19</text>
<text transform="translate(247 360.93) scale(0.73 1)" font-size="14.5" letter-spacing="4.93">R16</text>
<text transform="translate(247 380.23) scale(0.73 1)" font-size="14.5" letter-spacing="4.93">R17</text>
<text transform="translate(247 399.62) scale(0.73 1)" font-size="14.5" letter-spacing="4.93">R14</text>
<text transform="translate(247 418.82) scale(0.73 1)" font-size="14.5" letter-spacing="4.93">R15</text>
<text transform="translate(291 208.06) scale(0.73 1)" font-size="14.5" letter-spacing="4.79">R12</text>
<text transform="translate(291 227.26) scale(0.73 1)" font-size="14.5" letter-spacing="4.79">R13</text>
<text transform="translate(468.8 208.06) scale(0.73 1)" font-size="14.5" letter-spacing="5.34">R10</text>
<text transform="translate(468.8 227.26) scale(0.73 1)" font-size="14.5" letter-spacing="4.31">R11</text>
<text transform="translate(315.8 321.44) scale(0.73 1)" font-size="14.5" letter-spacing="3.4">U2</text>
<text transform="translate(354.3 323.14) scale(0.73 1)" font-size="14.5" letter-spacing="4.08">R7</text>
<text transform="translate(472.5 324.04) scale(0.73 1)" font-size="14.5" letter-spacing="3.81">R8</text>
<text transform="translate(493.8 324.04) scale(0.73 1)" font-size="14.5" letter-spacing="3.67">R9</text>
<text transform="translate(337.8 360.23) scale(0.73 1)" font-size="14.5" letter-spacing="2.03">C1</text>
<text transform="translate(398.8 359.93) scale(0.73 1)" font-size="14.5" letter-spacing="4.79">R23</text>
<text transform="translate(347 417.42) scale(0.73 1)" font-size="14.5" letter-spacing="3.4">R6</text>
<text transform="translate(469 399.52) scale(0.73 1)" font-size="14.5" letter-spacing="2.03">R1</text>
<text transform="translate(469 418.72) scale(0.73 1)" font-size="14.5" letter-spacing="4.08">R5</text>
<text transform="translate(322.5 513) scale(0.73 1)" font-size="14.5" letter-spacing="1.62">U1</text>
<text transform="translate(299.5 533.8) scale(0.73 1)" font-size="14.5" letter-spacing="4.08">C2</text>
<text transform="translate(452 515) scale(0.73 1)" font-size="14.5" letter-spacing="3.4">R2</text>
<text transform="translate(473 515) scale(0.73 1)" font-size="14.5" letter-spacing="4.08">R4</text>
<text transform="translate(452 534.2) scale(0.73 1)" font-size="14.5" letter-spacing="4.77">R3</text>
<text transform="translate(507 522.49) scale(0.73 1)" font-size="14.5" letter-spacing="3.16">VR1</text>
<text transform="translate(554.5 375.09) scale(0.62 1)" font-size="14.5" letter-spacing="4.38">SW1</text>
<text transform="translate(569.2 484.59) scale(0.73 1)" font-size="14.5" letter-spacing="3.88">J1</text>
<text transform="translate(381.6 167.29) scale(0.73 1)" font-size="14.5" letter-spacing="2.48">TH1</text>
<text transform="translate(301.3 162.84) scale(0.7 1)" font-size="9.6" letter-spacing="1.49" stroke-width="0.75">TP1</text>
</g>
<g fill="#161616" stroke="#161616" stroke-width="0.3" opacity="0.999" font-family="'Liberation Sans', Arial, sans-serif" font-weight="bold" font-size="14" letter-spacing="0.35" text-anchor="middle">
<text x="76.7" y="15.7">1</text>
<text x="76.7" y="648.9">1</text>
<text x="95.9" y="15.7">2</text>
<text x="95.9" y="648.9">2</text>
<text x="115.09" y="15.7">3</text>
<text x="115.09" y="648.9">3</text>
<text x="134.29" y="15.7">4</text>
<text x="134.29" y="648.9">4</text>
<text x="153.48" y="15.7">5</text>
<text x="153.48" y="648.9">5</text>
<text x="172.68" y="15.7">6</text>
<text x="172.68" y="648.9">6</text>
<text x="191.88" y="15.7">7</text>
<text x="191.88" y="648.9">7</text>
<text x="211.07" y="15.7">8</text>
<text x="211.07" y="648.9">8</text>
<text x="230.27" y="15.7">9</text>
<text x="230.27" y="648.9">9</text>
<text x="249.46" y="15.7">10</text>
<text x="249.46" y="648.9">10</text>
<text x="268.66" y="15.7">11</text>
<text x="268.66" y="648.9">11</text>
<text x="287.86" y="15.7">12</text>
<text x="287.86" y="648.9">12</text>
<text x="307.05" y="15.7">13</text>
<text x="307.05" y="648.9">13</text>
<text x="326.25" y="15.7">14</text>
<text x="326.25" y="648.9">14</text>
<text x="345.44" y="15.7">15</text>
<text x="345.44" y="648.9">15</text>
<text x="364.64" y="15.7">16</text>
<text x="364.64" y="648.9">16</text>
<text x="383.84" y="15.7">17</text>
<text x="383.84" y="648.9">17</text>
<text x="403.03" y="15.7">18</text>
<text x="403.03" y="648.9">18</text>
<text x="422.23" y="15.7">19</text>
<text x="422.23" y="648.9">19</text>
<text x="441.42" y="15.7">20</text>
<text x="441.42" y="648.9">20</text>
<text x="460.62" y="15.7">21</text>
<text x="460.62" y="648.9">21</text>
<text x="479.82" y="15.7">22</text>
<text x="479.82" y="648.9">22</text>
<text x="499.01" y="15.7">23</text>
<text x="499.01" y="648.9">23</text>
<text x="518.21" y="15.7">24</text>
<text x="518.21" y="648.9">24</text>
<text x="537.4" y="15.7">25</text>
<text x="537.4" y="648.9">25</text>
<text x="556.6" y="15.7">26</text>
<text x="556.6" y="648.9">26</text>
<text x="575.8" y="15.7">27</text>
<text x="575.8" y="648.9">27</text>
<text x="594.99" y="15.7">28</text>
<text x="594.99" y="648.9">28</text>
<text transform="translate(24.1 586.79) rotate(-90)">1</text>
<text transform="translate(656.7 586.49) rotate(-90)">1</text>
<text transform="translate(24.1 567.6) rotate(-90)">2</text>
<text transform="translate(656.7 567.3) rotate(-90)">2</text>
<text transform="translate(24.1 548.4) rotate(-90)">3</text>
<text transform="translate(656.7 548.1) rotate(-90)">3</text>
<text transform="translate(24.1 529.2) rotate(-90)">4</text>
<text transform="translate(656.7 528.9) rotate(-90)">4</text>
<text transform="translate(24.1 510.01) rotate(-90)">5</text>
<text transform="translate(656.7 509.71) rotate(-90)">5</text>
<text transform="translate(24.1 490.81) rotate(-90)">6</text>
<text transform="translate(656.7 490.51) rotate(-90)">6</text>
<text transform="translate(24.1 471.62) rotate(-90)">7</text>
<text transform="translate(656.7 471.32) rotate(-90)">7</text>
<text transform="translate(24.1 452.42) rotate(-90)">8</text>
<text transform="translate(656.7 452.12) rotate(-90)">8</text>
<text transform="translate(24.1 433.22) rotate(-90)">9</text>
<text transform="translate(656.7 432.92) rotate(-90)">9</text>
<text transform="translate(24.1 414.03) rotate(-90)">10</text>
<text transform="translate(656.7 413.73) rotate(-90)">10</text>
<text transform="translate(24.1 394.83) rotate(-90)">11</text>
<text transform="translate(656.7 394.53) rotate(-90)">11</text>
<text transform="translate(24.1 375.64) rotate(-90)">12</text>
<text transform="translate(656.7 375.34) rotate(-90)">12</text>
<text transform="translate(24.1 356.44) rotate(-90)">13</text>
<text transform="translate(656.7 356.14) rotate(-90)">13</text>
<text transform="translate(24.1 337.24) rotate(-90)">14</text>
<text transform="translate(656.7 336.94) rotate(-90)">14</text>
<text transform="translate(24.1 318.05) rotate(-90)">15</text>
<text transform="translate(656.7 317.75) rotate(-90)">15</text>
<text transform="translate(24.1 298.85) rotate(-90)">16</text>
<text transform="translate(656.7 298.55) rotate(-90)">16</text>
<text transform="translate(24.1 279.66) rotate(-90)">17</text>
<text transform="translate(656.7 279.36) rotate(-90)">17</text>
<text transform="translate(24.1 260.46) rotate(-90)">18</text>
<text transform="translate(656.7 260.16) rotate(-90)">18</text>
<text transform="translate(24.1 241.26) rotate(-90)">19</text>
<text transform="translate(656.7 240.96) rotate(-90)">19</text>
<text transform="translate(24.1 222.07) rotate(-90)">20</text>
<text transform="translate(656.7 221.77) rotate(-90)">20</text>
<text transform="translate(24.1 202.87) rotate(-90)">21</text>
<text transform="translate(656.7 202.57) rotate(-90)">21</text>
<text transform="translate(24.1 183.68) rotate(-90)">22</text>
<text transform="translate(656.7 183.38) rotate(-90)">22</text>
<text transform="translate(24.1 164.48) rotate(-90)">23</text>
<text transform="translate(656.7 164.18) rotate(-90)">23</text>
<text transform="translate(24.1 145.28) rotate(-90)">24</text>
<text transform="translate(656.7 144.98) rotate(-90)">24</text>
<text transform="translate(24.1 126.09) rotate(-90)">25</text>
<text transform="translate(656.7 125.79) rotate(-90)">25</text>
<text transform="translate(24.1 106.89) rotate(-90)">26</text>
<text transform="translate(656.7 106.59) rotate(-90)">26</text>
<text transform="translate(24.1 87.7) rotate(-90)">27</text>
<text transform="translate(656.7 87.4) rotate(-90)">27</text>
<text transform="translate(24.1 68.5) rotate(-90)">28</text>
<text transform="translate(656.7 68.2) rotate(-90)">28</text>
</g>
</svg>
</body>
</html>
